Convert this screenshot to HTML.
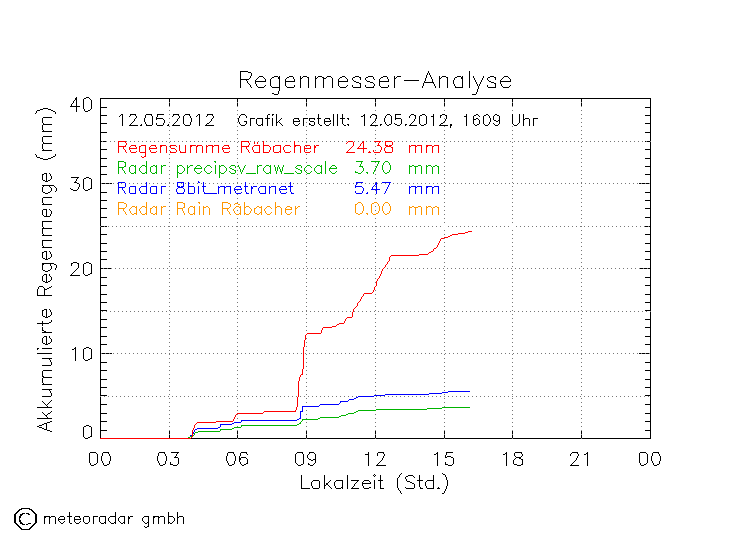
<!DOCTYPE html>
<html><head><meta charset="utf-8"><title>Regenmesser-Analyse</title><style>
html,body{margin:0;padding:0;background:#fff;overflow:hidden;}
svg{display:block;}
</style></head><body>
<svg width="749" height="539" viewBox="0 0 749 539" shape-rendering="crispEdges" role="img" aria-label="Regenmesser-Analyse">
<desc>Regenmesser-Analyse. 12.05.2012 - Grafik erstellt: 12.05.2012, 1609 Uhr. Regensumme Räbacher 24.38 mm; Radar precipsv_raw_scale 3.70 mm; Radar 8bit_metranet 5.47 mm; Radar Rain Râbacher 0.00 mm. Y-Achse: Akkumulierte Regenmenge (mm), 0-40. X-Achse: Lokalzeit (Std.), 00-24. © meteoradar gmbh</desc>
<rect width="749" height="539" fill="#fff"/>
<path fill="#000000" d="M240 71h8v1h-8zM428 71h1v1h-1zM469 71h1v1h-1zM240 72h1v1h-1zM248 72h3v1h-3zM428 72h1v1h-1zM469 72h1v1h-1zM240 73h1v1h-1zM251 73h1v1h-1zM427 73h1v1h-1zM429 73h1v1h-1zM469 73h1v1h-1zM240 74h1v1h-1zM251 74h1v1h-1zM427 74h1v1h-1zM429 74h1v1h-1zM469 74h1v1h-1zM240 75h1v1h-1zM251 75h1v1h-1zM426 75h1v1h-1zM430 75h1v1h-1zM469 75h1v1h-1zM240 76h1v1h-1zM250 76h1v1h-1zM259 76h4v1h-4zM274 76h4v1h-4zM279 76h1v1h-1zM289 76h4v1h-4zM300 76h1v1h-1zM303 76h4v1h-4zM315 76h1v1h-1zM318 76h4v1h-4zM327 76h4v1h-4zM342 76h3v1h-3zM355 76h4v1h-4zM368 76h5v1h-5zM383 76h4v1h-4zM394 76h1v1h-1zM397 76h4v1h-4zM426 76h1v1h-1zM430 76h1v1h-1zM439 76h1v1h-1zM442 76h4v1h-4zM457 76h4v1h-4zM462 76h1v1h-1zM469 76h1v1h-1zM473 76h1v1h-1zM483 76h1v1h-1zM490 76h4v1h-4zM504 76h4v1h-4zM240 77h1v1h-1zM250 77h1v1h-1zM258 77h1v1h-1zM263 77h1v1h-1zM272 77h2v1h-2zM278 77h2v1h-2zM287 77h2v1h-2zM293 77h1v1h-1zM300 77h1v1h-1zM302 77h1v1h-1zM307 77h2v1h-2zM315 77h1v1h-1zM317 77h1v1h-1zM322 77h2v1h-2zM326 77h1v1h-1zM331 77h1v1h-1zM340 77h2v1h-2zM345 77h1v1h-1zM353 77h2v1h-2zM359 77h2v1h-2zM366 77h2v1h-2zM373 77h1v1h-1zM381 77h2v1h-2zM387 77h1v1h-1zM394 77h1v1h-1zM396 77h1v1h-1zM426 77h1v1h-1zM431 77h1v1h-1zM439 77h1v1h-1zM441 77h1v1h-1zM446 77h2v1h-2zM455 77h2v1h-2zM461 77h2v1h-2zM469 77h1v1h-1zM473 77h1v1h-1zM483 77h1v1h-1zM488 77h2v1h-2zM494 77h2v1h-2zM503 77h1v1h-1zM508 77h1v1h-1zM240 78h1v1h-1zM249 78h1v1h-1zM257 78h1v1h-1zM264 78h1v1h-1zM271 78h1v1h-1zM278 78h2v1h-2zM286 78h1v1h-1zM293 78h1v1h-1zM300 78h2v1h-2zM308 78h1v1h-1zM315 78h2v1h-2zM323 78h3v1h-3zM332 78h1v1h-1zM339 78h1v1h-1zM346 78h1v1h-1zM352 78h1v1h-1zM360 78h1v1h-1zM365 78h1v1h-1zM373 78h1v1h-1zM380 78h1v1h-1zM387 78h1v1h-1zM394 78h2v1h-2zM425 78h1v1h-1zM431 78h1v1h-1zM439 78h2v1h-2zM447 78h1v1h-1zM454 78h1v1h-1zM461 78h2v1h-2zM469 78h1v1h-1zM474 78h1v1h-1zM482 78h1v1h-1zM487 78h1v1h-1zM495 78h1v1h-1zM502 78h1v1h-1zM509 78h1v1h-1zM240 79h9v1h-9zM256 79h1v1h-1zM265 79h1v1h-1zM270 79h1v1h-1zM279 79h1v1h-1zM285 79h1v1h-1zM294 79h1v1h-1zM300 79h1v1h-1zM308 79h1v1h-1zM315 79h1v1h-1zM323 79h1v1h-1zM332 79h1v1h-1zM338 79h1v1h-1zM347 79h1v1h-1zM352 79h1v1h-1zM360 79h1v1h-1zM365 79h1v1h-1zM374 79h1v1h-1zM379 79h1v1h-1zM388 79h1v1h-1zM394 79h1v1h-1zM425 79h1v1h-1zM432 79h1v1h-1zM439 79h1v1h-1zM447 79h1v1h-1zM454 79h1v1h-1zM462 79h1v1h-1zM469 79h1v1h-1zM474 79h1v1h-1zM482 79h1v1h-1zM487 79h1v1h-1zM495 79h1v1h-1zM501 79h1v1h-1zM510 79h1v1h-1zM240 80h1v1h-1zM246 80h1v1h-1zM255 80h1v1h-1zM265 80h1v1h-1zM270 80h1v1h-1zM279 80h1v1h-1zM285 80h1v1h-1zM294 80h1v1h-1zM300 80h1v1h-1zM308 80h1v1h-1zM315 80h1v1h-1zM323 80h1v1h-1zM332 80h1v1h-1zM338 80h1v1h-1zM347 80h1v1h-1zM353 80h1v1h-1zM366 80h1v1h-1zM379 80h1v1h-1zM388 80h1v1h-1zM394 80h1v1h-1zM404 80h15v1h-15zM425 80h1v1h-1zM432 80h1v1h-1zM439 80h1v1h-1zM447 80h1v1h-1zM453 80h1v1h-1zM462 80h1v1h-1zM469 80h1v1h-1zM475 80h1v1h-1zM481 80h1v1h-1zM488 80h1v1h-1zM500 80h1v1h-1zM510 80h1v1h-1zM240 81h1v1h-1zM247 81h1v1h-1zM255 81h11v1h-11zM270 81h1v1h-1zM279 81h1v1h-1zM285 81h10v1h-10zM300 81h1v1h-1zM308 81h1v1h-1zM315 81h1v1h-1zM323 81h1v1h-1zM332 81h1v1h-1zM338 81h10v1h-10zM354 81h2v1h-2zM367 81h3v1h-3zM379 81h10v1h-10zM394 81h1v1h-1zM424 81h1v1h-1zM432 81h1v1h-1zM439 81h1v1h-1zM447 81h1v1h-1zM453 81h1v1h-1zM462 81h1v1h-1zM469 81h1v1h-1zM475 81h1v1h-1zM481 81h1v1h-1zM489 81h2v1h-2zM500 81h11v1h-11zM240 82h1v1h-1zM247 82h1v1h-1zM255 82h1v1h-1zM270 82h1v1h-1zM279 82h1v1h-1zM285 82h1v1h-1zM300 82h1v1h-1zM308 82h1v1h-1zM315 82h1v1h-1zM323 82h1v1h-1zM332 82h1v1h-1zM338 82h1v1h-1zM356 82h3v1h-3zM370 82h3v1h-3zM379 82h1v1h-1zM394 82h1v1h-1zM424 82h10v1h-10zM439 82h1v1h-1zM447 82h1v1h-1zM453 82h1v1h-1zM462 82h1v1h-1zM469 82h1v1h-1zM476 82h1v1h-1zM480 82h1v1h-1zM491 82h3v1h-3zM500 82h1v1h-1zM240 83h1v1h-1zM248 83h1v1h-1zM255 83h1v1h-1zM270 83h1v1h-1zM279 83h1v1h-1zM285 83h1v1h-1zM300 83h1v1h-1zM308 83h1v1h-1zM315 83h1v1h-1zM323 83h1v1h-1zM332 83h1v1h-1zM338 83h1v1h-1zM359 83h2v1h-2zM373 83h1v1h-1zM379 83h1v1h-1zM394 83h1v1h-1zM423 83h1v1h-1zM433 83h1v1h-1zM439 83h1v1h-1zM447 83h1v1h-1zM453 83h1v1h-1zM462 83h1v1h-1zM469 83h1v1h-1zM476 83h1v1h-1zM480 83h1v1h-1zM494 83h2v1h-2zM500 83h1v1h-1zM240 84h1v1h-1zM249 84h1v1h-1zM256 84h1v1h-1zM270 84h1v1h-1zM279 84h1v1h-1zM285 84h1v1h-1zM300 84h1v1h-1zM308 84h1v1h-1zM315 84h1v1h-1zM323 84h1v1h-1zM332 84h1v1h-1zM338 84h1v1h-1zM360 84h1v1h-1zM374 84h1v1h-1zM379 84h1v1h-1zM394 84h1v1h-1zM423 84h1v1h-1zM434 84h1v1h-1zM439 84h1v1h-1zM447 84h1v1h-1zM454 84h1v1h-1zM462 84h1v1h-1zM469 84h1v1h-1zM477 84h1v1h-1zM479 84h1v1h-1zM495 84h1v1h-1zM501 84h1v1h-1zM240 85h1v1h-1zM250 85h1v1h-1zM256 85h1v1h-1zM265 85h1v1h-1zM270 85h1v1h-1zM279 85h1v1h-1zM285 85h1v1h-1zM294 85h1v1h-1zM300 85h1v1h-1zM308 85h1v1h-1zM315 85h1v1h-1zM323 85h1v1h-1zM332 85h1v1h-1zM338 85h1v1h-1zM347 85h1v1h-1zM352 85h1v1h-1zM360 85h1v1h-1zM365 85h1v1h-1zM374 85h1v1h-1zM379 85h1v1h-1zM388 85h1v1h-1zM394 85h1v1h-1zM423 85h1v1h-1zM434 85h1v1h-1zM439 85h1v1h-1zM447 85h1v1h-1zM454 85h1v1h-1zM462 85h1v1h-1zM469 85h1v1h-1zM477 85h1v1h-1zM479 85h1v1h-1zM487 85h1v1h-1zM495 85h1v1h-1zM501 85h1v1h-1zM510 85h1v1h-1zM240 86h1v1h-1zM250 86h1v1h-1zM257 86h1v1h-1zM264 86h1v1h-1zM271 86h1v1h-1zM279 86h1v1h-1zM286 86h1v1h-1zM294 86h1v1h-1zM300 86h1v1h-1zM308 86h1v1h-1zM315 86h1v1h-1zM323 86h1v1h-1zM332 86h1v1h-1zM339 86h1v1h-1zM346 86h1v1h-1zM352 86h1v1h-1zM360 86h1v1h-1zM365 86h1v1h-1zM373 86h1v1h-1zM380 86h1v1h-1zM388 86h1v1h-1zM394 86h1v1h-1zM422 86h1v1h-1zM435 86h1v1h-1zM439 86h1v1h-1zM447 86h1v1h-1zM455 86h1v1h-1zM462 86h1v1h-1zM469 86h1v1h-1zM478 86h1v1h-1zM487 86h1v1h-1zM495 86h1v1h-1zM502 86h1v1h-1zM509 86h1v1h-1zM240 87h1v1h-1zM251 87h1v1h-1zM258 87h6v1h-6zM272 87h8v1h-8zM287 87h7v1h-7zM300 87h1v1h-1zM308 87h1v1h-1zM315 87h1v1h-1zM323 87h1v1h-1zM332 87h1v1h-1zM340 87h6v1h-6zM353 87h8v1h-8zM366 87h8v1h-8zM381 87h7v1h-7zM394 87h1v1h-1zM422 87h1v1h-1zM435 87h1v1h-1zM439 87h1v1h-1zM447 87h1v1h-1zM455 87h8v1h-8zM469 87h1v1h-1zM478 87h1v1h-1zM488 87h8v1h-8zM503 87h6v1h-6zM279 88h1v1h-1zM478 88h1v1h-1zM279 89h1v1h-1zM477 89h1v1h-1zM279 90h1v1h-1zM477 90h1v1h-1zM278 91h1v1h-1zM477 91h1v1h-1zM278 92h1v1h-1zM476 92h1v1h-1zM272 93h2v1h-2zM278 93h1v1h-1zM476 93h1v1h-1zM274 94h4v1h-4zM472 94h4v1h-4zM76 97h1v1h-1zM86 97h3v1h-3zM75 98h2v1h-2zM84 98h2v1h-2zM89 98h1v1h-1zM100 98h551v1h-551zM75 99h2v1h-2zM83 99h1v1h-1zM90 99h1v1h-1zM100 99h1v1h-1zM169 99h1v1h-1zM237 99h1v1h-1zM306 99h1v1h-1zM375 99h1v1h-1zM444 99h1v1h-1zM512 99h1v1h-1zM581 99h1v1h-1zM650 99h1v1h-1zM74 100h1v1h-1zM76 100h1v1h-1zM83 100h1v1h-1zM91 100h1v1h-1zM100 100h1v1h-1zM169 100h1v1h-1zM237 100h1v1h-1zM306 100h1v1h-1zM375 100h1v1h-1zM444 100h1v1h-1zM512 100h1v1h-1zM581 100h1v1h-1zM650 100h1v1h-1zM73 101h1v1h-1zM76 101h1v1h-1zM83 101h1v1h-1zM91 101h1v1h-1zM100 101h1v1h-1zM169 101h1v1h-1zM237 101h1v1h-1zM306 101h1v1h-1zM375 101h1v1h-1zM444 101h1v1h-1zM512 101h1v1h-1zM581 101h1v1h-1zM650 101h1v1h-1zM73 102h1v1h-1zM76 102h1v1h-1zM83 102h1v1h-1zM91 102h1v1h-1zM100 102h1v1h-1zM650 102h1v1h-1zM72 103h1v1h-1zM76 103h1v1h-1zM83 103h1v1h-1zM91 103h1v1h-1zM100 103h1v1h-1zM169 103h1v1h-1zM237 103h1v1h-1zM306 103h1v1h-1zM375 103h1v1h-1zM444 103h1v1h-1zM512 103h1v1h-1zM581 103h1v1h-1zM650 103h1v1h-1zM71 104h1v1h-1zM76 104h1v1h-1zM83 104h1v1h-1zM91 104h1v1h-1zM100 104h1v1h-1zM169 104h1v1h-1zM237 104h1v1h-1zM306 104h1v1h-1zM375 104h1v1h-1zM444 104h1v1h-1zM512 104h1v1h-1zM581 104h1v1h-1zM650 104h1v1h-1zM71 105h1v1h-1zM76 105h1v1h-1zM83 105h1v1h-1zM91 105h1v1h-1zM100 105h1v1h-1zM169 105h1v1h-1zM237 105h1v1h-1zM306 105h1v1h-1zM375 105h1v1h-1zM444 105h1v1h-1zM512 105h1v1h-1zM581 105h1v1h-1zM650 105h1v1h-1zM70 106h10v1h-10zM83 106h1v1h-1zM91 106h1v1h-1zM100 106h1v1h-1zM650 106h1v1h-1zM76 107h1v1h-1zM83 107h1v1h-1zM91 107h1v1h-1zM100 107h7v1h-7zM645 107h6v1h-6zM43 108h5v1h-5zM76 108h1v1h-1zM83 108h1v1h-1zM91 108h1v1h-1zM100 108h1v1h-1zM650 108h1v1h-1zM40 109h3v1h-3zM48 109h3v1h-3zM76 109h1v1h-1zM84 109h1v1h-1zM90 109h1v1h-1zM100 109h1v1h-1zM650 109h1v1h-1zM37 110h3v1h-3zM51 110h2v1h-2zM76 110h1v1h-1zM84 110h1v1h-1zM88 110h2v1h-2zM100 110h1v1h-1zM650 110h1v1h-1zM36 111h1v1h-1zM53 111h2v1h-2zM76 111h1v1h-1zM85 111h3v1h-3zM100 111h1v1h-1zM650 111h1v1h-1zM36 112h1v1h-1zM55 112h1v1h-1zM100 112h1v1h-1zM650 112h1v1h-1zM35 113h1v1h-1zM55 113h1v1h-1zM100 113h1v1h-1zM650 113h1v1h-1zM100 114h1v1h-1zM121 114h2v1h-2zM130 114h6v1h-6zM146 114h6v1h-6zM157 114h7v1h-7zM173 114h6v1h-6zM185 114h5v1h-5zM198 114h2v1h-2zM207 114h6v1h-6zM241 114h4v1h-4zM268 114h2v1h-2zM272 114h2v1h-2zM276 114h1v1h-1zM318 114h1v1h-1zM333 114h1v1h-1zM337 114h1v1h-1zM342 114h1v1h-1zM364 114h1v1h-1zM372 114h3v1h-3zM387 114h3v1h-3zM395 114h6v1h-6zM411 114h3v1h-3zM422 114h3v1h-3zM433 114h1v1h-1zM442 114h3v1h-3zM466 114h1v1h-1zM476 114h2v1h-2zM486 114h2v1h-2zM495 114h2v1h-2zM512 114h1v1h-1zM519 114h1v1h-1zM523 114h1v1h-1zM650 114h1v1h-1zM100 115h7v1h-7zM120 115h1v1h-1zM122 115h1v1h-1zM130 115h1v1h-1zM135 115h1v1h-1zM145 115h1v1h-1zM151 115h1v1h-1zM157 115h1v1h-1zM173 115h1v1h-1zM178 115h1v1h-1zM184 115h1v1h-1zM189 115h1v1h-1zM197 115h1v1h-1zM199 115h1v1h-1zM207 115h1v1h-1zM212 115h1v1h-1zM240 115h1v1h-1zM245 115h1v1h-1zM267 115h1v1h-1zM272 115h1v1h-1zM276 115h1v1h-1zM318 115h1v1h-1zM333 115h1v1h-1zM337 115h1v1h-1zM342 115h1v1h-1zM363 115h2v1h-2zM371 115h1v1h-1zM375 115h2v1h-2zM386 115h1v1h-1zM390 115h1v1h-1zM395 115h1v1h-1zM410 115h1v1h-1zM414 115h2v1h-2zM420 115h2v1h-2zM425 115h1v1h-1zM433 115h1v1h-1zM440 115h2v1h-2zM445 115h2v1h-2zM466 115h1v1h-1zM474 115h2v1h-2zM478 115h1v1h-1zM484 115h2v1h-2zM488 115h1v1h-1zM494 115h1v1h-1zM497 115h2v1h-2zM512 115h1v1h-1zM519 115h1v1h-1zM523 115h1v1h-1zM645 115h6v1h-6zM100 116h1v1h-1zM119 116h1v1h-1zM122 116h1v1h-1zM129 116h1v1h-1zM136 116h1v1h-1zM145 116h1v1h-1zM152 116h1v1h-1zM157 116h1v1h-1zM172 116h1v1h-1zM179 116h1v1h-1zM183 116h1v1h-1zM190 116h1v1h-1zM196 116h1v1h-1zM199 116h1v1h-1zM206 116h1v1h-1zM213 116h1v1h-1zM239 116h1v1h-1zM246 116h1v1h-1zM267 116h1v1h-1zM276 116h1v1h-1zM318 116h1v1h-1zM333 116h1v1h-1zM337 116h1v1h-1zM342 116h1v1h-1zM361 116h2v1h-2zM364 116h1v1h-1zM370 116h1v1h-1zM376 116h1v1h-1zM385 116h1v1h-1zM391 116h1v1h-1zM395 116h1v1h-1zM409 116h1v1h-1zM415 116h1v1h-1zM419 116h1v1h-1zM426 116h1v1h-1zM431 116h3v1h-3zM440 116h1v1h-1zM446 116h1v1h-1zM464 116h3v1h-3zM473 116h1v1h-1zM479 116h1v1h-1zM483 116h1v1h-1zM489 116h1v1h-1zM493 116h1v1h-1zM499 116h1v1h-1zM512 116h1v1h-1zM519 116h1v1h-1zM523 116h1v1h-1zM650 116h1v1h-1zM43 117h9v1h-9zM100 117h1v1h-1zM122 117h1v1h-1zM136 117h1v1h-1zM145 117h1v1h-1zM152 117h1v1h-1zM156 117h1v1h-1zM179 117h1v1h-1zM183 117h1v1h-1zM190 117h1v1h-1zM199 117h1v1h-1zM213 117h1v1h-1zM239 117h1v1h-1zM246 117h1v1h-1zM267 117h1v1h-1zM276 117h1v1h-1zM318 117h1v1h-1zM333 117h1v1h-1zM337 117h1v1h-1zM342 117h1v1h-1zM364 117h1v1h-1zM370 117h1v1h-1zM376 117h1v1h-1zM385 117h1v1h-1zM391 117h1v1h-1zM395 117h1v1h-1zM409 117h1v1h-1zM415 117h1v1h-1zM419 117h1v1h-1zM426 117h1v1h-1zM433 117h1v1h-1zM440 117h1v1h-1zM446 117h1v1h-1zM466 117h1v1h-1zM473 117h1v1h-1zM483 117h1v1h-1zM489 117h1v1h-1zM493 117h1v1h-1zM499 117h1v1h-1zM512 117h1v1h-1zM519 117h1v1h-1zM523 117h1v1h-1zM650 117h1v1h-1zM42 118h1v1h-1zM100 118h1v1h-1zM122 118h1v1h-1zM135 118h1v1h-1zM144 118h1v1h-1zM152 118h1v1h-1zM156 118h7v1h-7zM178 118h1v1h-1zM183 118h1v1h-1zM191 118h1v1h-1zM199 118h1v1h-1zM212 118h1v1h-1zM238 118h1v1h-1zM250 118h5v1h-5zM257 118h6v1h-6zM265 118h5v1h-5zM272 118h1v1h-1zM276 118h1v1h-1zM281 118h1v1h-1zM294 118h5v1h-5zM303 118h5v1h-5zM309 118h6v1h-6zM317 118h4v1h-4zM325 118h5v1h-5zM333 118h1v1h-1zM337 118h1v1h-1zM340 118h5v1h-5zM347 118h2v1h-2zM364 118h1v1h-1zM376 118h1v1h-1zM384 118h1v1h-1zM391 118h1v1h-1zM395 118h6v1h-6zM415 118h1v1h-1zM419 118h1v1h-1zM426 118h1v1h-1zM433 118h1v1h-1zM446 118h1v1h-1zM466 118h1v1h-1zM473 118h1v1h-1zM476 118h2v1h-2zM483 118h1v1h-1zM490 118h1v1h-1zM493 118h1v1h-1zM499 118h1v1h-1zM512 118h1v1h-1zM519 118h1v1h-1zM523 118h1v1h-1zM525 118h4v1h-4zM533 118h5v1h-5zM650 118h1v1h-1zM42 119h1v1h-1zM100 119h1v1h-1zM122 119h1v1h-1zM134 119h1v1h-1zM144 119h1v1h-1zM152 119h1v1h-1zM156 119h1v1h-1zM163 119h1v1h-1zM177 119h1v1h-1zM183 119h1v1h-1zM191 119h1v1h-1zM199 119h1v1h-1zM211 119h1v1h-1zM238 119h1v1h-1zM250 119h1v1h-1zM256 119h1v1h-1zM262 119h1v1h-1zM267 119h1v1h-1zM272 119h1v1h-1zM276 119h1v1h-1zM280 119h1v1h-1zM293 119h1v1h-1zM298 119h1v1h-1zM303 119h1v1h-1zM309 119h1v1h-1zM314 119h1v1h-1zM318 119h1v1h-1zM324 119h1v1h-1zM329 119h1v1h-1zM333 119h1v1h-1zM337 119h1v1h-1zM342 119h1v1h-1zM348 119h1v1h-1zM364 119h1v1h-1zM375 119h1v1h-1zM384 119h1v1h-1zM391 119h1v1h-1zM395 119h1v1h-1zM401 119h1v1h-1zM414 119h1v1h-1zM419 119h1v1h-1zM426 119h1v1h-1zM433 119h1v1h-1zM445 119h1v1h-1zM466 119h1v1h-1zM473 119h3v1h-3zM478 119h1v1h-1zM483 119h1v1h-1zM490 119h1v1h-1zM493 119h1v1h-1zM499 119h1v1h-1zM512 119h1v1h-1zM519 119h1v1h-1zM523 119h2v1h-2zM529 119h1v1h-1zM533 119h1v1h-1zM650 119h1v1h-1zM42 120h1v1h-1zM100 120h1v1h-1zM122 120h1v1h-1zM134 120h1v1h-1zM144 120h1v1h-1zM152 120h1v1h-1zM164 120h1v1h-1zM177 120h1v1h-1zM183 120h1v1h-1zM191 120h1v1h-1zM199 120h1v1h-1zM211 120h1v1h-1zM238 120h1v1h-1zM250 120h1v1h-1zM256 120h1v1h-1zM262 120h1v1h-1zM267 120h1v1h-1zM272 120h1v1h-1zM276 120h1v1h-1zM279 120h1v1h-1zM293 120h1v1h-1zM299 120h1v1h-1zM303 120h1v1h-1zM309 120h1v1h-1zM318 120h1v1h-1zM324 120h1v1h-1zM330 120h1v1h-1zM333 120h1v1h-1zM337 120h1v1h-1zM342 120h1v1h-1zM364 120h1v1h-1zM375 120h1v1h-1zM384 120h1v1h-1zM391 120h1v1h-1zM401 120h1v1h-1zM414 120h1v1h-1zM419 120h1v1h-1zM426 120h1v1h-1zM433 120h1v1h-1zM445 120h1v1h-1zM466 120h1v1h-1zM473 120h1v1h-1zM479 120h1v1h-1zM483 120h1v1h-1zM490 120h1v1h-1zM494 120h2v1h-2zM498 120h2v1h-2zM512 120h1v1h-1zM519 120h1v1h-1zM523 120h1v1h-1zM529 120h1v1h-1zM533 120h1v1h-1zM650 120h1v1h-1zM42 121h1v1h-1zM100 121h1v1h-1zM122 121h1v1h-1zM133 121h1v1h-1zM144 121h1v1h-1zM152 121h1v1h-1zM164 121h1v1h-1zM176 121h1v1h-1zM183 121h1v1h-1zM191 121h1v1h-1zM199 121h1v1h-1zM210 121h1v1h-1zM238 121h1v1h-1zM244 121h3v1h-3zM250 121h1v1h-1zM256 121h1v1h-1zM262 121h1v1h-1zM267 121h1v1h-1zM272 121h1v1h-1zM276 121h1v1h-1zM278 121h1v1h-1zM293 121h7v1h-7zM303 121h1v1h-1zM310 121h4v1h-4zM318 121h1v1h-1zM324 121h7v1h-7zM333 121h1v1h-1zM337 121h1v1h-1zM342 121h1v1h-1zM364 121h1v1h-1zM374 121h1v1h-1zM384 121h1v1h-1zM391 121h1v1h-1zM401 121h1v1h-1zM413 121h1v1h-1zM419 121h1v1h-1zM426 121h1v1h-1zM433 121h1v1h-1zM444 121h1v1h-1zM466 121h1v1h-1zM473 121h1v1h-1zM479 121h1v1h-1zM483 121h1v1h-1zM490 121h1v1h-1zM496 121h2v1h-2zM499 121h1v1h-1zM512 121h1v1h-1zM519 121h1v1h-1zM523 121h1v1h-1zM529 121h1v1h-1zM533 121h1v1h-1zM650 121h1v1h-1zM42 122h1v1h-1zM100 122h1v1h-1zM122 122h1v1h-1zM132 122h1v1h-1zM145 122h1v1h-1zM152 122h1v1h-1zM164 122h1v1h-1zM175 122h1v1h-1zM183 122h1v1h-1zM190 122h1v1h-1zM199 122h1v1h-1zM209 122h1v1h-1zM239 122h1v1h-1zM246 122h1v1h-1zM250 122h1v1h-1zM256 122h1v1h-1zM262 122h1v1h-1zM267 122h1v1h-1zM272 122h1v1h-1zM276 122h2v1h-2zM279 122h1v1h-1zM293 122h1v1h-1zM303 122h1v1h-1zM314 122h1v1h-1zM318 122h1v1h-1zM324 122h1v1h-1zM333 122h1v1h-1zM337 122h1v1h-1zM342 122h1v1h-1zM364 122h1v1h-1zM373 122h1v1h-1zM385 122h1v1h-1zM391 122h1v1h-1zM401 122h1v1h-1zM412 122h1v1h-1zM419 122h1v1h-1zM426 122h1v1h-1zM433 122h1v1h-1zM443 122h1v1h-1zM466 122h1v1h-1zM473 122h1v1h-1zM479 122h1v1h-1zM483 122h1v1h-1zM489 122h1v1h-1zM499 122h1v1h-1zM512 122h1v1h-1zM519 122h1v1h-1zM523 122h1v1h-1zM529 122h1v1h-1zM533 122h1v1h-1zM650 122h1v1h-1zM43 123h1v1h-1zM100 123h7v1h-7zM122 123h1v1h-1zM131 123h1v1h-1zM145 123h1v1h-1zM152 123h1v1h-1zM156 123h1v1h-1zM163 123h1v1h-1zM174 123h1v1h-1zM183 123h1v1h-1zM190 123h1v1h-1zM199 123h1v1h-1zM207 123h2v1h-2zM239 123h1v1h-1zM246 123h1v1h-1zM250 123h1v1h-1zM256 123h1v1h-1zM262 123h1v1h-1zM267 123h1v1h-1zM272 123h1v1h-1zM276 123h1v1h-1zM280 123h1v1h-1zM293 123h1v1h-1zM299 123h1v1h-1zM303 123h1v1h-1zM309 123h1v1h-1zM314 123h1v1h-1zM318 123h1v1h-1zM324 123h1v1h-1zM330 123h1v1h-1zM333 123h1v1h-1zM337 123h1v1h-1zM342 123h1v1h-1zM364 123h1v1h-1zM372 123h1v1h-1zM385 123h1v1h-1zM391 123h1v1h-1zM394 123h1v1h-1zM401 123h1v1h-1zM411 123h1v1h-1zM419 123h1v1h-1zM426 123h1v1h-1zM433 123h1v1h-1zM441 123h2v1h-2zM466 123h1v1h-1zM473 123h1v1h-1zM479 123h1v1h-1zM483 123h1v1h-1zM489 123h1v1h-1zM493 123h1v1h-1zM499 123h1v1h-1zM512 123h1v1h-1zM518 123h1v1h-1zM523 123h1v1h-1zM529 123h1v1h-1zM533 123h1v1h-1zM645 123h6v1h-6zM43 124h9v1h-9zM100 124h1v1h-1zM122 124h1v1h-1zM130 124h1v1h-1zM141 124h1v1h-1zM146 124h1v1h-1zM152 124h1v1h-1zM156 124h1v1h-1zM163 124h1v1h-1zM168 124h1v1h-1zM173 124h1v1h-1zM184 124h1v1h-1zM190 124h1v1h-1zM199 124h1v1h-1zM206 124h1v1h-1zM240 124h1v1h-1zM245 124h1v1h-1zM250 124h1v1h-1zM257 124h1v1h-1zM261 124h2v1h-2zM267 124h1v1h-1zM272 124h1v1h-1zM276 124h1v1h-1zM281 124h1v1h-1zM294 124h1v1h-1zM298 124h1v1h-1zM303 124h1v1h-1zM309 124h2v1h-2zM314 124h1v1h-1zM319 124h1v1h-1zM325 124h1v1h-1zM329 124h1v1h-1zM333 124h1v1h-1zM337 124h1v1h-1zM343 124h1v1h-1zM347 124h2v1h-2zM364 124h1v1h-1zM371 124h1v1h-1zM380 124h2v1h-2zM386 124h1v1h-1zM389 124h2v1h-2zM395 124h2v1h-2zM400 124h1v1h-1zM405 124h2v1h-2zM410 124h1v1h-1zM420 124h1v1h-1zM424 124h2v1h-2zM433 124h1v1h-1zM440 124h1v1h-1zM450 124h2v1h-2zM466 124h1v1h-1zM474 124h1v1h-1zM477 124h2v1h-2zM484 124h1v1h-1zM488 124h1v1h-1zM494 124h1v1h-1zM498 124h1v1h-1zM513 124h1v1h-1zM517 124h1v1h-1zM523 124h1v1h-1zM529 124h1v1h-1zM533 124h1v1h-1zM650 124h1v1h-1zM42 125h1v1h-1zM100 125h1v1h-1zM122 125h1v1h-1zM129 125h9v1h-9zM140 125h2v1h-2zM146 125h6v1h-6zM157 125h6v1h-6zM167 125h2v1h-2zM172 125h8v1h-8zM185 125h5v1h-5zM199 125h1v1h-1zM205 125h9v1h-9zM241 125h4v1h-4zM250 125h1v1h-1zM258 125h3v1h-3zM262 125h1v1h-1zM267 125h1v1h-1zM272 125h1v1h-1zM276 125h1v1h-1zM282 125h1v1h-1zM295 125h3v1h-3zM303 125h1v1h-1zM311 125h3v1h-3zM320 125h2v1h-2zM326 125h3v1h-3zM333 125h1v1h-1zM337 125h1v1h-1zM344 125h2v1h-2zM348 125h1v1h-1zM364 125h1v1h-1zM370 125h8v1h-8zM380 125h1v1h-1zM387 125h2v1h-2zM397 125h3v1h-3zM405 125h1v1h-1zM409 125h8v1h-8zM421 125h3v1h-3zM433 125h1v1h-1zM439 125h9v1h-9zM450 125h2v1h-2zM466 125h1v1h-1zM475 125h2v1h-2zM485 125h3v1h-3zM495 125h3v1h-3zM514 125h3v1h-3zM523 125h1v1h-1zM529 125h1v1h-1zM533 125h1v1h-1zM650 125h1v1h-1zM42 126h1v1h-1zM100 126h1v1h-1zM450 126h1v1h-1zM650 126h1v1h-1zM42 127h1v1h-1zM100 127h1v1h-1zM450 127h1v1h-1zM650 127h1v1h-1zM42 128h1v1h-1zM100 128h1v1h-1zM650 128h1v1h-1zM42 129h1v1h-1zM100 129h1v1h-1zM650 129h1v1h-1zM43 130h1v1h-1zM100 130h1v1h-1zM650 130h1v1h-1zM42 131h10v1h-10zM100 131h1v1h-1zM650 131h1v1h-1zM100 132h7v1h-7zM645 132h6v1h-6zM100 133h1v1h-1zM650 133h1v1h-1zM100 134h1v1h-1zM650 134h1v1h-1zM100 135h1v1h-1zM650 135h1v1h-1zM43 136h9v1h-9zM100 136h1v1h-1zM650 136h1v1h-1zM42 137h1v1h-1zM100 137h1v1h-1zM650 137h1v1h-1zM42 138h1v1h-1zM100 138h1v1h-1zM650 138h1v1h-1zM42 139h1v1h-1zM100 139h1v1h-1zM650 139h1v1h-1zM42 140h1v1h-1zM100 140h1v1h-1zM650 140h1v1h-1zM42 141h1v1h-1zM100 141h2v1h-2zM103 141h3v1h-3zM645 141h1v1h-1zM647 141h3v1h-3zM43 142h1v1h-1zM100 142h1v1h-1zM650 142h1v1h-1zM43 143h9v1h-9zM100 143h1v1h-1zM650 143h1v1h-1zM42 144h1v1h-1zM100 144h1v1h-1zM650 144h1v1h-1zM42 145h1v1h-1zM100 145h1v1h-1zM650 145h1v1h-1zM42 146h1v1h-1zM100 146h1v1h-1zM650 146h1v1h-1zM42 147h1v1h-1zM100 147h1v1h-1zM650 147h1v1h-1zM42 148h1v1h-1zM100 148h1v1h-1zM650 148h1v1h-1zM43 149h1v1h-1zM100 149h7v1h-7zM645 149h6v1h-6zM42 150h10v1h-10zM100 150h1v1h-1zM650 150h1v1h-1zM100 151h1v1h-1zM650 151h1v1h-1zM100 152h1v1h-1zM650 152h1v1h-1zM100 153h1v1h-1zM650 153h1v1h-1zM35 154h1v1h-1zM55 154h1v1h-1zM100 154h1v1h-1zM650 154h1v1h-1zM36 155h1v1h-1zM55 155h1v1h-1zM100 155h1v1h-1zM650 155h1v1h-1zM36 156h1v1h-1zM53 156h2v1h-2zM100 156h1v1h-1zM650 156h1v1h-1zM37 157h3v1h-3zM51 157h2v1h-2zM100 157h1v1h-1zM650 157h1v1h-1zM40 158h3v1h-3zM48 158h3v1h-3zM100 158h7v1h-7zM645 158h6v1h-6zM43 159h5v1h-5zM100 159h1v1h-1zM650 159h1v1h-1zM100 160h1v1h-1zM650 160h1v1h-1zM100 161h1v1h-1zM650 161h1v1h-1zM100 162h1v1h-1zM650 162h1v1h-1zM100 163h1v1h-1zM650 163h1v1h-1zM100 164h1v1h-1zM650 164h1v1h-1zM100 165h1v1h-1zM650 165h1v1h-1zM100 166h7v1h-7zM645 166h6v1h-6zM100 167h1v1h-1zM650 167h1v1h-1zM100 168h1v1h-1zM650 168h1v1h-1zM100 169h1v1h-1zM650 169h1v1h-1zM100 170h1v1h-1zM650 170h1v1h-1zM100 171h1v1h-1zM650 171h1v1h-1zM100 172h1v1h-1zM650 172h1v1h-1zM44 173h3v1h-3zM49 173h1v1h-1zM100 173h1v1h-1zM650 173h1v1h-1zM42 174h2v1h-2zM46 174h1v1h-1zM50 174h1v1h-1zM100 174h7v1h-7zM645 174h6v1h-6zM42 175h1v1h-1zM46 175h1v1h-1zM50 175h1v1h-1zM100 175h1v1h-1zM650 175h1v1h-1zM42 176h1v1h-1zM46 176h1v1h-1zM51 176h1v1h-1zM100 176h1v1h-1zM650 176h1v1h-1zM42 177h1v1h-1zM46 177h1v1h-1zM51 177h1v1h-1zM71 177h8v1h-8zM86 177h3v1h-3zM100 177h1v1h-1zM650 177h1v1h-1zM42 178h1v1h-1zM46 178h1v1h-1zM51 178h1v1h-1zM77 178h1v1h-1zM84 178h2v1h-2zM89 178h2v1h-2zM100 178h1v1h-1zM650 178h1v1h-1zM42 179h1v1h-1zM46 179h1v1h-1zM50 179h1v1h-1zM76 179h1v1h-1zM83 179h1v1h-1zM91 179h1v1h-1zM100 179h1v1h-1zM650 179h1v1h-1zM43 180h2v1h-2zM46 180h1v1h-1zM48 180h2v1h-2zM76 180h1v1h-1zM83 180h1v1h-1zM91 180h1v1h-1zM100 180h1v1h-1zM650 180h1v1h-1zM45 181h3v1h-3zM75 181h1v1h-1zM83 181h1v1h-1zM91 181h1v1h-1zM100 181h1v1h-1zM650 181h1v1h-1zM74 182h3v1h-3zM83 182h1v1h-1zM91 182h1v1h-1zM100 182h1v1h-1zM650 182h1v1h-1zM77 183h2v1h-2zM83 183h1v1h-1zM91 183h1v1h-1zM100 183h1v1h-1zM102 183h3v1h-3zM106 183h3v1h-3zM110 183h2v1h-2zM639 183h2v1h-2zM642 183h3v1h-3zM646 183h3v1h-3zM650 183h1v1h-1zM79 184h1v1h-1zM83 184h1v1h-1zM91 184h1v1h-1zM100 184h1v1h-1zM650 184h1v1h-1zM42 185h12v1h-12zM79 185h1v1h-1zM83 185h1v1h-1zM91 185h1v1h-1zM100 185h1v1h-1zM650 185h1v1h-1zM43 186h1v1h-1zM49 186h1v1h-1zM54 186h1v1h-1zM79 186h1v1h-1zM83 186h1v1h-1zM91 186h1v1h-1zM100 186h1v1h-1zM650 186h1v1h-1zM42 187h1v1h-1zM50 187h1v1h-1zM55 187h1v1h-1zM78 187h1v1h-1zM83 187h1v1h-1zM91 187h1v1h-1zM100 187h1v1h-1zM650 187h1v1h-1zM42 188h1v1h-1zM51 188h1v1h-1zM56 188h1v1h-1zM70 188h1v1h-1zM78 188h1v1h-1zM83 188h1v1h-1zM90 188h2v1h-2zM100 188h1v1h-1zM650 188h1v1h-1zM42 189h1v1h-1zM51 189h1v1h-1zM56 189h1v1h-1zM71 189h2v1h-2zM77 189h1v1h-1zM84 189h1v1h-1zM88 189h2v1h-2zM100 189h1v1h-1zM650 189h1v1h-1zM42 190h1v1h-1zM51 190h1v1h-1zM56 190h1v1h-1zM73 190h4v1h-4zM85 190h3v1h-3zM100 190h1v1h-1zM650 190h1v1h-1zM42 191h1v1h-1zM50 191h1v1h-1zM55 191h1v1h-1zM100 191h1v1h-1zM650 191h1v1h-1zM43 192h2v1h-2zM48 192h2v1h-2zM100 192h7v1h-7zM645 192h6v1h-6zM45 193h3v1h-3zM100 193h1v1h-1zM650 193h1v1h-1zM100 194h1v1h-1zM650 194h1v1h-1zM100 195h1v1h-1zM650 195h1v1h-1zM100 196h1v1h-1zM650 196h1v1h-1zM43 197h9v1h-9zM100 197h1v1h-1zM650 197h1v1h-1zM42 198h1v1h-1zM100 198h1v1h-1zM650 198h1v1h-1zM42 199h1v1h-1zM100 199h1v1h-1zM650 199h1v1h-1zM42 200h1v1h-1zM100 200h7v1h-7zM645 200h6v1h-6zM42 201h1v1h-1zM100 201h1v1h-1zM650 201h1v1h-1zM42 202h1v1h-1zM100 202h1v1h-1zM650 202h1v1h-1zM43 203h1v1h-1zM100 203h1v1h-1zM650 203h1v1h-1zM42 204h10v1h-10zM100 204h1v1h-1zM650 204h1v1h-1zM100 205h1v1h-1zM650 205h1v1h-1zM100 206h1v1h-1zM650 206h1v1h-1zM100 207h1v1h-1zM650 207h1v1h-1zM100 208h7v1h-7zM645 208h6v1h-6zM43 209h4v1h-4zM49 209h1v1h-1zM100 209h1v1h-1zM650 209h1v1h-1zM42 210h1v1h-1zM46 210h1v1h-1zM50 210h1v1h-1zM100 210h1v1h-1zM650 210h1v1h-1zM42 211h1v1h-1zM46 211h1v1h-1zM51 211h1v1h-1zM100 211h1v1h-1zM650 211h1v1h-1zM42 212h1v1h-1zM46 212h1v1h-1zM51 212h1v1h-1zM100 212h1v1h-1zM650 212h1v1h-1zM42 213h1v1h-1zM46 213h1v1h-1zM51 213h1v1h-1zM100 213h1v1h-1zM650 213h1v1h-1zM42 214h1v1h-1zM46 214h1v1h-1zM50 214h1v1h-1zM100 214h1v1h-1zM650 214h1v1h-1zM43 215h1v1h-1zM46 215h1v1h-1zM50 215h1v1h-1zM100 215h1v1h-1zM650 215h1v1h-1zM44 216h6v1h-6zM100 216h1v1h-1zM650 216h1v1h-1zM100 217h7v1h-7zM645 217h6v1h-6zM100 218h1v1h-1zM650 218h1v1h-1zM100 219h1v1h-1zM650 219h1v1h-1zM100 220h1v1h-1zM650 220h1v1h-1zM42 221h10v1h-10zM100 221h1v1h-1zM650 221h1v1h-1zM42 222h1v1h-1zM100 222h1v1h-1zM650 222h1v1h-1zM42 223h1v1h-1zM100 223h1v1h-1zM650 223h1v1h-1zM42 224h1v1h-1zM100 224h1v1h-1zM650 224h1v1h-1zM42 225h1v1h-1zM100 225h1v1h-1zM650 225h1v1h-1zM42 226h1v1h-1zM101 226h3v1h-3zM105 226h2v1h-2zM645 226h3v1h-3zM649 226h2v1h-2zM43 227h1v1h-1zM100 227h1v1h-1zM650 227h1v1h-1zM42 228h10v1h-10zM100 228h1v1h-1zM650 228h1v1h-1zM42 229h1v1h-1zM100 229h1v1h-1zM650 229h1v1h-1zM42 230h1v1h-1zM100 230h1v1h-1zM650 230h1v1h-1zM42 231h1v1h-1zM100 231h1v1h-1zM650 231h1v1h-1zM42 232h1v1h-1zM100 232h1v1h-1zM650 232h1v1h-1zM42 233h1v1h-1zM100 233h1v1h-1zM650 233h1v1h-1zM43 234h1v1h-1zM100 234h7v1h-7zM645 234h6v1h-6zM42 235h10v1h-10zM100 235h1v1h-1zM650 235h1v1h-1zM100 236h1v1h-1zM650 236h1v1h-1zM100 237h1v1h-1zM650 237h1v1h-1zM100 238h1v1h-1zM650 238h1v1h-1zM100 239h1v1h-1zM650 239h1v1h-1zM42 240h10v1h-10zM100 240h1v1h-1zM650 240h1v1h-1zM42 241h1v1h-1zM100 241h1v1h-1zM650 241h1v1h-1zM42 242h1v1h-1zM100 242h1v1h-1zM650 242h1v1h-1zM42 243h1v1h-1zM100 243h7v1h-7zM645 243h6v1h-6zM42 244h1v1h-1zM100 244h1v1h-1zM650 244h1v1h-1zM42 245h1v1h-1zM100 245h1v1h-1zM650 245h1v1h-1zM43 246h1v1h-1zM100 246h1v1h-1zM650 246h1v1h-1zM42 247h10v1h-10zM100 247h1v1h-1zM650 247h1v1h-1zM100 248h1v1h-1zM650 248h1v1h-1zM100 249h1v1h-1zM650 249h1v1h-1zM100 250h1v1h-1zM650 250h1v1h-1zM44 251h3v1h-3zM49 251h1v1h-1zM100 251h7v1h-7zM645 251h6v1h-6zM42 252h2v1h-2zM46 252h1v1h-1zM50 252h1v1h-1zM100 252h1v1h-1zM650 252h1v1h-1zM42 253h1v1h-1zM46 253h1v1h-1zM50 253h1v1h-1zM100 253h1v1h-1zM650 253h1v1h-1zM42 254h1v1h-1zM46 254h1v1h-1zM51 254h1v1h-1zM100 254h1v1h-1zM650 254h1v1h-1zM42 255h1v1h-1zM46 255h1v1h-1zM51 255h1v1h-1zM100 255h1v1h-1zM650 255h1v1h-1zM42 256h1v1h-1zM46 256h1v1h-1zM51 256h1v1h-1zM100 256h1v1h-1zM650 256h1v1h-1zM42 257h1v1h-1zM46 257h1v1h-1zM50 257h1v1h-1zM100 257h1v1h-1zM650 257h1v1h-1zM43 258h2v1h-2zM46 258h1v1h-1zM48 258h2v1h-2zM100 258h1v1h-1zM650 258h1v1h-1zM45 259h3v1h-3zM100 259h7v1h-7zM645 259h6v1h-6zM100 260h1v1h-1zM650 260h1v1h-1zM100 261h1v1h-1zM650 261h1v1h-1zM73 262h4v1h-4zM86 262h3v1h-3zM100 262h1v1h-1zM650 262h1v1h-1zM42 263h12v1h-12zM71 263h2v1h-2zM77 263h2v1h-2zM84 263h2v1h-2zM89 263h2v1h-2zM100 263h1v1h-1zM650 263h1v1h-1zM42 264h2v1h-2zM50 264h1v1h-1zM54 264h2v1h-2zM71 264h1v1h-1zM78 264h1v1h-1zM83 264h1v1h-1zM91 264h1v1h-1zM100 264h1v1h-1zM650 264h1v1h-1zM42 265h1v1h-1zM50 265h1v1h-1zM56 265h1v1h-1zM71 265h1v1h-1zM78 265h1v1h-1zM83 265h1v1h-1zM91 265h1v1h-1zM100 265h1v1h-1zM650 265h1v1h-1zM42 266h1v1h-1zM51 266h1v1h-1zM56 266h1v1h-1zM78 266h1v1h-1zM83 266h1v1h-1zM91 266h1v1h-1zM100 266h1v1h-1zM650 266h1v1h-1zM42 267h1v1h-1zM51 267h1v1h-1zM56 267h1v1h-1zM78 267h1v1h-1zM83 267h1v1h-1zM91 267h1v1h-1zM100 267h1v1h-1zM650 267h1v1h-1zM42 268h1v1h-1zM51 268h1v1h-1zM55 268h1v1h-1zM77 268h1v1h-1zM83 268h1v1h-1zM91 268h1v1h-1zM100 268h3v1h-3zM104 268h3v1h-3zM108 268h3v1h-3zM640 268h3v1h-3zM644 268h3v1h-3zM648 268h3v1h-3zM42 269h1v1h-1zM50 269h1v1h-1zM55 269h1v1h-1zM76 269h1v1h-1zM83 269h1v1h-1zM91 269h1v1h-1zM100 269h1v1h-1zM650 269h1v1h-1zM43 270h2v1h-2zM48 270h2v1h-2zM75 270h1v1h-1zM83 270h1v1h-1zM91 270h1v1h-1zM100 270h1v1h-1zM650 270h1v1h-1zM45 271h3v1h-3zM74 271h1v1h-1zM83 271h1v1h-1zM91 271h1v1h-1zM100 271h1v1h-1zM650 271h1v1h-1zM73 272h1v1h-1zM83 272h1v1h-1zM91 272h1v1h-1zM100 272h1v1h-1zM650 272h1v1h-1zM72 273h1v1h-1zM83 273h1v1h-1zM90 273h2v1h-2zM100 273h1v1h-1zM650 273h1v1h-1zM44 274h3v1h-3zM49 274h1v1h-1zM71 274h1v1h-1zM84 274h1v1h-1zM88 274h2v1h-2zM100 274h1v1h-1zM650 274h1v1h-1zM43 275h1v1h-1zM46 275h1v1h-1zM49 275h1v1h-1zM70 275h10v1h-10zM85 275h3v1h-3zM100 275h1v1h-1zM650 275h1v1h-1zM42 276h1v1h-1zM46 276h1v1h-1zM50 276h1v1h-1zM100 276h1v1h-1zM650 276h1v1h-1zM42 277h1v1h-1zM46 277h1v1h-1zM51 277h1v1h-1zM100 277h7v1h-7zM645 277h6v1h-6zM42 278h1v1h-1zM46 278h1v1h-1zM51 278h1v1h-1zM100 278h1v1h-1zM650 278h1v1h-1zM42 279h1v1h-1zM46 279h1v1h-1zM51 279h1v1h-1zM100 279h1v1h-1zM650 279h1v1h-1zM42 280h1v1h-1zM46 280h1v1h-1zM50 280h1v1h-1zM100 280h1v1h-1zM650 280h1v1h-1zM43 281h2v1h-2zM46 281h1v1h-1zM48 281h2v1h-2zM100 281h1v1h-1zM650 281h1v1h-1zM45 282h3v1h-3zM100 282h1v1h-1zM650 282h1v1h-1zM100 283h1v1h-1zM650 283h1v1h-1zM100 284h1v1h-1zM650 284h1v1h-1zM100 285h7v1h-7zM645 285h6v1h-6zM39 286h4v1h-4zM51 286h1v1h-1zM100 286h1v1h-1zM650 286h1v1h-1zM38 287h1v1h-1zM43 287h1v1h-1zM49 287h2v1h-2zM100 287h1v1h-1zM650 287h1v1h-1zM38 288h1v1h-1zM44 288h1v1h-1zM47 288h2v1h-2zM100 288h1v1h-1zM650 288h1v1h-1zM37 289h1v1h-1zM44 289h3v1h-3zM100 289h1v1h-1zM650 289h1v1h-1zM37 290h1v1h-1zM44 290h1v1h-1zM100 290h1v1h-1zM650 290h1v1h-1zM37 291h1v1h-1zM44 291h1v1h-1zM100 291h1v1h-1zM650 291h1v1h-1zM37 292h1v1h-1zM44 292h1v1h-1zM100 292h1v1h-1zM650 292h1v1h-1zM37 293h1v1h-1zM44 293h1v1h-1zM100 293h1v1h-1zM650 293h1v1h-1zM37 294h1v1h-1zM44 294h1v1h-1zM100 294h7v1h-7zM645 294h6v1h-6zM37 295h15v1h-15zM100 295h1v1h-1zM650 295h1v1h-1zM100 296h1v1h-1zM650 296h1v1h-1zM100 297h1v1h-1zM650 297h1v1h-1zM100 298h1v1h-1zM650 298h1v1h-1zM100 299h1v1h-1zM650 299h1v1h-1zM100 300h1v1h-1zM650 300h1v1h-1zM100 301h1v1h-1zM650 301h1v1h-1zM100 302h7v1h-7zM645 302h6v1h-6zM100 303h1v1h-1zM650 303h1v1h-1zM100 304h1v1h-1zM650 304h1v1h-1zM100 305h1v1h-1zM650 305h1v1h-1zM100 306h1v1h-1zM650 306h1v1h-1zM100 307h1v1h-1zM650 307h1v1h-1zM100 308h1v1h-1zM650 308h1v1h-1zM44 309h3v1h-3zM49 309h1v1h-1zM100 309h1v1h-1zM650 309h1v1h-1zM42 310h2v1h-2zM46 310h1v1h-1zM50 310h1v1h-1zM100 310h7v1h-7zM645 310h6v1h-6zM42 311h1v1h-1zM46 311h1v1h-1zM50 311h1v1h-1zM100 311h1v1h-1zM42 312h1v1h-1zM46 312h1v1h-1zM51 312h1v1h-1zM100 312h1v1h-1zM650 312h1v1h-1zM42 313h1v1h-1zM46 313h1v1h-1zM51 313h1v1h-1zM100 313h1v1h-1zM650 313h1v1h-1zM42 314h1v1h-1zM46 314h1v1h-1zM51 314h1v1h-1zM100 314h1v1h-1zM650 314h1v1h-1zM42 315h1v1h-1zM46 315h1v1h-1zM50 315h1v1h-1zM100 315h1v1h-1zM650 315h1v1h-1zM43 316h2v1h-2zM46 316h1v1h-1zM48 316h2v1h-2zM100 316h1v1h-1zM650 316h1v1h-1zM45 317h3v1h-3zM100 317h1v1h-1zM650 317h1v1h-1zM100 318h1v1h-1zM650 318h1v1h-1zM100 319h7v1h-7zM645 319h6v1h-6zM51 320h1v1h-1zM100 320h1v1h-1zM650 320h1v1h-1zM42 321h1v1h-1zM51 321h1v1h-1zM100 321h1v1h-1zM650 321h1v1h-1zM42 322h1v1h-1zM49 322h2v1h-2zM100 322h1v1h-1zM650 322h1v1h-1zM37 323h12v1h-12zM100 323h1v1h-1zM650 323h1v1h-1zM42 324h1v1h-1zM100 324h1v1h-1zM650 324h1v1h-1zM42 325h1v1h-1zM100 325h1v1h-1zM650 325h1v1h-1zM100 326h1v1h-1zM650 326h1v1h-1zM42 327h1v1h-1zM100 327h7v1h-7zM645 327h6v1h-6zM42 328h1v1h-1zM100 328h1v1h-1zM650 328h1v1h-1zM42 329h1v1h-1zM100 329h1v1h-1zM650 329h1v1h-1zM42 330h2v1h-2zM100 330h1v1h-1zM650 330h1v1h-1zM44 331h2v1h-2zM100 331h1v1h-1zM650 331h1v1h-1zM42 332h10v1h-10zM100 332h1v1h-1zM650 332h1v1h-1zM100 333h1v1h-1zM650 333h1v1h-1zM100 334h1v1h-1zM650 334h1v1h-1zM100 335h1v1h-1zM650 335h1v1h-1zM44 336h3v1h-3zM49 336h1v1h-1zM100 336h7v1h-7zM645 336h6v1h-6zM43 337h1v1h-1zM46 337h1v1h-1zM49 337h1v1h-1zM100 337h1v1h-1zM650 337h1v1h-1zM42 338h1v1h-1zM46 338h1v1h-1zM50 338h1v1h-1zM100 338h1v1h-1zM650 338h1v1h-1zM42 339h1v1h-1zM46 339h1v1h-1zM51 339h1v1h-1zM100 339h1v1h-1zM650 339h1v1h-1zM42 340h1v1h-1zM46 340h1v1h-1zM51 340h1v1h-1zM100 340h1v1h-1zM650 340h1v1h-1zM42 341h1v1h-1zM46 341h1v1h-1zM51 341h1v1h-1zM100 341h1v1h-1zM650 341h1v1h-1zM42 342h1v1h-1zM46 342h1v1h-1zM50 342h1v1h-1zM100 342h1v1h-1zM650 342h1v1h-1zM43 343h2v1h-2zM46 343h1v1h-1zM48 343h2v1h-2zM100 343h1v1h-1zM650 343h1v1h-1zM45 344h3v1h-3zM100 344h7v1h-7zM645 344h6v1h-6zM100 345h1v1h-1zM650 345h1v1h-1zM100 346h1v1h-1zM650 346h1v1h-1zM75 347h1v1h-1zM86 347h3v1h-3zM100 347h1v1h-1zM650 347h1v1h-1zM37 348h2v1h-2zM42 348h10v1h-10zM74 348h2v1h-2zM84 348h2v1h-2zM89 348h2v1h-2zM100 348h1v1h-1zM650 348h1v1h-1zM37 349h1v1h-1zM72 349h2v1h-2zM75 349h1v1h-1zM83 349h1v1h-1zM91 349h1v1h-1zM100 349h1v1h-1zM650 349h1v1h-1zM75 350h1v1h-1zM83 350h1v1h-1zM91 350h1v1h-1zM100 350h1v1h-1zM650 350h1v1h-1zM75 351h1v1h-1zM83 351h1v1h-1zM91 351h1v1h-1zM100 351h1v1h-1zM650 351h1v1h-1zM75 352h1v1h-1zM83 352h1v1h-1zM91 352h1v1h-1zM100 352h1v1h-1zM650 352h1v1h-1zM37 353h15v1h-15zM75 353h1v1h-1zM83 353h1v1h-1zM91 353h1v1h-1zM100 353h1v1h-1zM102 353h3v1h-3zM106 353h3v1h-3zM110 353h2v1h-2zM639 353h2v1h-2zM642 353h3v1h-3zM646 353h3v1h-3zM650 353h1v1h-1zM75 354h1v1h-1zM83 354h1v1h-1zM91 354h1v1h-1zM100 354h1v1h-1zM650 354h1v1h-1zM75 355h1v1h-1zM83 355h1v1h-1zM91 355h1v1h-1zM100 355h1v1h-1zM650 355h1v1h-1zM75 356h1v1h-1zM83 356h1v1h-1zM91 356h1v1h-1zM100 356h1v1h-1zM650 356h1v1h-1zM75 357h1v1h-1zM83 357h1v1h-1zM91 357h1v1h-1zM100 357h1v1h-1zM650 357h1v1h-1zM42 358h10v1h-10zM75 358h1v1h-1zM83 358h1v1h-1zM90 358h2v1h-2zM100 358h1v1h-1zM650 358h1v1h-1zM49 359h1v1h-1zM75 359h1v1h-1zM84 359h1v1h-1zM88 359h2v1h-2zM100 359h1v1h-1zM650 359h1v1h-1zM50 360h1v1h-1zM75 360h1v1h-1zM85 360h3v1h-3zM100 360h1v1h-1zM650 360h1v1h-1zM50 361h1v1h-1zM100 361h1v1h-1zM650 361h1v1h-1zM51 362h1v1h-1zM100 362h7v1h-7zM645 362h6v1h-6zM51 363h1v1h-1zM100 363h1v1h-1zM650 363h1v1h-1zM51 364h1v1h-1zM100 364h1v1h-1zM650 364h1v1h-1zM42 365h9v1h-9zM100 365h1v1h-1zM650 365h1v1h-1zM100 366h1v1h-1zM650 366h1v1h-1zM100 367h1v1h-1zM650 367h1v1h-1zM100 368h1v1h-1zM650 368h1v1h-1zM100 369h1v1h-1zM650 369h1v1h-1zM43 370h9v1h-9zM100 370h7v1h-7zM645 370h6v1h-6zM42 371h1v1h-1zM100 371h1v1h-1zM650 371h1v1h-1zM42 372h1v1h-1zM100 372h1v1h-1zM650 372h1v1h-1zM42 373h1v1h-1zM100 373h1v1h-1zM650 373h1v1h-1zM42 374h1v1h-1zM100 374h1v1h-1zM650 374h1v1h-1zM42 375h1v1h-1zM100 375h1v1h-1zM650 375h1v1h-1zM42 376h2v1h-2zM100 376h1v1h-1zM650 376h1v1h-1zM43 377h9v1h-9zM100 377h1v1h-1zM650 377h1v1h-1zM42 378h1v1h-1zM100 378h1v1h-1zM650 378h1v1h-1zM42 379h1v1h-1zM100 379h7v1h-7zM645 379h6v1h-6zM42 380h1v1h-1zM100 380h1v1h-1zM650 380h1v1h-1zM42 381h1v1h-1zM100 381h1v1h-1zM650 381h1v1h-1zM42 382h1v1h-1zM100 382h1v1h-1zM650 382h1v1h-1zM43 383h1v1h-1zM100 383h1v1h-1zM650 383h1v1h-1zM42 384h10v1h-10zM100 384h1v1h-1zM650 384h1v1h-1zM100 385h1v1h-1zM650 385h1v1h-1zM100 386h1v1h-1zM650 386h1v1h-1zM100 387h7v1h-7zM645 387h6v1h-6zM100 388h1v1h-1zM650 388h1v1h-1zM42 389h10v1h-10zM100 389h1v1h-1zM650 389h1v1h-1zM49 390h1v1h-1zM100 390h1v1h-1zM650 390h1v1h-1zM50 391h1v1h-1zM100 391h1v1h-1zM650 391h1v1h-1zM50 392h1v1h-1zM100 392h1v1h-1zM650 392h1v1h-1zM51 393h1v1h-1zM100 393h1v1h-1zM650 393h1v1h-1zM51 394h1v1h-1zM100 394h1v1h-1zM650 394h1v1h-1zM51 395h1v1h-1zM100 395h7v1h-7zM645 395h6v1h-6zM42 396h9v1h-9zM650 396h1v1h-1zM100 397h1v1h-1zM650 397h1v1h-1zM100 398h1v1h-1zM650 398h1v1h-1zM100 399h1v1h-1zM650 399h1v1h-1zM51 400h1v1h-1zM100 400h1v1h-1zM650 400h1v1h-1zM42 401h1v1h-1zM50 401h1v1h-1zM100 401h1v1h-1zM650 401h1v1h-1zM43 402h1v1h-1zM49 402h1v1h-1zM100 402h1v1h-1zM650 402h1v1h-1zM44 403h1v1h-1zM48 403h1v1h-1zM100 403h1v1h-1zM650 403h1v1h-1zM45 404h1v1h-1zM47 404h1v1h-1zM100 404h7v1h-7zM645 404h6v1h-6zM46 405h1v1h-1zM100 405h1v1h-1zM650 405h1v1h-1zM47 406h1v1h-1zM100 406h1v1h-1zM650 406h1v1h-1zM37 407h15v1h-15zM100 407h1v1h-1zM650 407h1v1h-1zM100 408h1v1h-1zM650 408h1v1h-1zM100 409h1v1h-1zM650 409h1v1h-1zM100 410h1v1h-1zM650 410h1v1h-1zM51 411h1v1h-1zM100 411h1v1h-1zM650 411h1v1h-1zM42 412h1v1h-1zM50 412h1v1h-1zM100 412h1v1h-1zM650 412h1v1h-1zM43 413h1v1h-1zM48 413h2v1h-2zM100 413h7v1h-7zM645 413h6v1h-6zM44 414h1v1h-1zM47 414h1v1h-1zM100 414h1v1h-1zM650 414h1v1h-1zM45 415h2v1h-2zM100 415h1v1h-1zM650 415h1v1h-1zM46 416h1v1h-1zM100 416h1v1h-1zM650 416h1v1h-1zM47 417h1v1h-1zM100 417h1v1h-1zM650 417h1v1h-1zM37 418h15v1h-15zM100 418h1v1h-1zM650 418h1v1h-1zM100 419h1v1h-1zM650 419h1v1h-1zM100 420h1v1h-1zM650 420h1v1h-1zM50 421h2v1h-2zM100 421h7v1h-7zM645 421h6v1h-6zM47 422h3v1h-3zM100 422h1v1h-1zM650 422h1v1h-1zM44 423h3v1h-3zM100 423h1v1h-1zM650 423h1v1h-1zM42 424h2v1h-2zM46 424h1v1h-1zM100 424h1v1h-1zM650 424h1v1h-1zM39 425h3v1h-3zM46 425h1v1h-1zM86 425h3v1h-3zM100 425h1v1h-1zM650 425h1v1h-1zM37 426h2v1h-2zM46 426h1v1h-1zM84 426h2v1h-2zM89 426h2v1h-2zM100 426h1v1h-1zM650 426h1v1h-1zM39 427h3v1h-3zM46 427h1v1h-1zM83 427h1v1h-1zM91 427h1v1h-1zM100 427h1v1h-1zM650 427h1v1h-1zM42 428h2v1h-2zM46 428h1v1h-1zM83 428h1v1h-1zM91 428h1v1h-1zM100 428h1v1h-1zM650 428h1v1h-1zM44 429h3v1h-3zM83 429h1v1h-1zM91 429h1v1h-1zM100 429h1v1h-1zM650 429h1v1h-1zM47 430h3v1h-3zM83 430h1v1h-1zM91 430h1v1h-1zM100 430h7v1h-7zM645 430h6v1h-6zM50 431h2v1h-2zM83 431h1v1h-1zM91 431h1v1h-1zM100 431h1v1h-1zM169 431h1v1h-1zM237 431h1v1h-1zM306 431h1v1h-1zM375 431h1v1h-1zM444 431h1v1h-1zM512 431h1v1h-1zM581 431h1v1h-1zM650 431h1v1h-1zM83 432h1v1h-1zM91 432h1v1h-1zM100 432h1v1h-1zM169 432h1v1h-1zM237 432h1v1h-1zM306 432h1v1h-1zM375 432h1v1h-1zM444 432h1v1h-1zM512 432h1v1h-1zM581 432h1v1h-1zM650 432h1v1h-1zM83 433h1v1h-1zM91 433h1v1h-1zM100 433h1v1h-1zM169 433h1v1h-1zM237 433h1v1h-1zM306 433h1v1h-1zM375 433h1v1h-1zM444 433h1v1h-1zM512 433h1v1h-1zM581 433h1v1h-1zM650 433h1v1h-1zM83 434h1v1h-1zM91 434h1v1h-1zM100 434h1v1h-1zM650 434h1v1h-1zM83 435h1v1h-1zM91 435h1v1h-1zM100 435h1v1h-1zM169 435h1v1h-1zM237 435h1v1h-1zM306 435h1v1h-1zM375 435h1v1h-1zM444 435h1v1h-1zM512 435h1v1h-1zM581 435h1v1h-1zM650 435h1v1h-1zM83 436h1v1h-1zM90 436h2v1h-2zM100 436h1v1h-1zM169 436h1v1h-1zM237 436h1v1h-1zM306 436h1v1h-1zM375 436h1v1h-1zM444 436h1v1h-1zM512 436h1v1h-1zM581 436h1v1h-1zM650 436h1v1h-1zM84 437h1v1h-1zM88 437h2v1h-2zM100 437h1v1h-1zM169 437h1v1h-1zM237 437h1v1h-1zM306 437h1v1h-1zM375 437h1v1h-1zM444 437h1v1h-1zM512 437h1v1h-1zM581 437h1v1h-1zM650 437h1v1h-1zM85 438h3v1h-3zM191 438h46v1h-46zM238 438h68v1h-68zM307 438h68v1h-68zM376 438h68v1h-68zM445 438h67v1h-67zM513 438h68v1h-68zM582 438h69v1h-69zM90 452h6v1h-6zM103 452h6v1h-6zM159 452h6v1h-6zM171 452h8v1h-8zM228 452h6v1h-6zM241 452h6v1h-6zM297 452h6v1h-6zM309 452h5v1h-5zM368 452h1v1h-1zM378 452h6v1h-6zM437 452h1v1h-1zM446 452h7v1h-7zM506 452h1v1h-1zM515 452h7v1h-7zM572 452h6v1h-6zM587 452h1v1h-1zM640 452h6v1h-6zM653 452h6v1h-6zM89 453h1v1h-1zM96 453h1v1h-1zM102 453h1v1h-1zM108 453h1v1h-1zM158 453h1v1h-1zM164 453h1v1h-1zM177 453h1v1h-1zM227 453h1v1h-1zM233 453h1v1h-1zM240 453h1v1h-1zM246 453h1v1h-1zM296 453h1v1h-1zM302 453h1v1h-1zM309 453h1v1h-1zM314 453h1v1h-1zM368 453h1v1h-1zM377 453h1v1h-1zM383 453h1v1h-1zM436 453h2v1h-2zM446 453h1v1h-1zM505 453h2v1h-2zM514 453h1v1h-1zM521 453h1v1h-1zM571 453h1v1h-1zM577 453h1v1h-1zM586 453h2v1h-2zM639 453h1v1h-1zM646 453h1v1h-1zM652 453h1v1h-1zM658 453h1v1h-1zM89 454h1v1h-1zM97 454h1v1h-1zM102 454h1v1h-1zM109 454h1v1h-1zM158 454h1v1h-1zM165 454h1v1h-1zM176 454h1v1h-1zM227 454h1v1h-1zM234 454h1v1h-1zM240 454h1v1h-1zM247 454h1v1h-1zM295 454h1v1h-1zM303 454h1v1h-1zM308 454h1v1h-1zM315 454h1v1h-1zM365 454h4v1h-4zM377 454h1v1h-1zM384 454h1v1h-1zM434 454h2v1h-2zM437 454h1v1h-1zM446 454h1v1h-1zM503 454h2v1h-2zM506 454h1v1h-1zM514 454h1v1h-1zM522 454h1v1h-1zM570 454h1v1h-1zM578 454h1v1h-1zM584 454h2v1h-2zM587 454h1v1h-1zM639 454h1v1h-1zM647 454h1v1h-1zM652 454h1v1h-1zM659 454h1v1h-1zM89 455h1v1h-1zM97 455h1v1h-1zM102 455h1v1h-1zM109 455h1v1h-1zM158 455h1v1h-1zM165 455h1v1h-1zM176 455h1v1h-1zM227 455h1v1h-1zM234 455h1v1h-1zM240 455h1v1h-1zM295 455h1v1h-1zM303 455h1v1h-1zM307 455h1v1h-1zM315 455h1v1h-1zM368 455h1v1h-1zM377 455h1v1h-1zM384 455h1v1h-1zM437 455h1v1h-1zM445 455h1v1h-1zM506 455h1v1h-1zM514 455h1v1h-1zM522 455h1v1h-1zM570 455h1v1h-1zM578 455h1v1h-1zM587 455h1v1h-1zM639 455h1v1h-1zM647 455h1v1h-1zM652 455h1v1h-1zM659 455h1v1h-1zM89 456h1v1h-1zM97 456h1v1h-1zM101 456h1v1h-1zM110 456h1v1h-1zM157 456h1v1h-1zM166 456h1v1h-1zM175 456h1v1h-1zM226 456h1v1h-1zM235 456h1v1h-1zM239 456h1v1h-1zM295 456h1v1h-1zM303 456h1v1h-1zM307 456h1v1h-1zM315 456h1v1h-1zM368 456h1v1h-1zM383 456h1v1h-1zM437 456h1v1h-1zM445 456h1v1h-1zM447 456h4v1h-4zM506 456h1v1h-1zM515 456h1v1h-1zM521 456h1v1h-1zM577 456h1v1h-1zM587 456h1v1h-1zM639 456h1v1h-1zM647 456h1v1h-1zM651 456h1v1h-1zM660 456h1v1h-1zM89 457h1v1h-1zM97 457h1v1h-1zM101 457h1v1h-1zM110 457h1v1h-1zM157 457h1v1h-1zM166 457h1v1h-1zM174 457h4v1h-4zM226 457h1v1h-1zM235 457h1v1h-1zM239 457h1v1h-1zM241 457h5v1h-5zM295 457h1v1h-1zM303 457h1v1h-1zM307 457h1v1h-1zM315 457h1v1h-1zM368 457h1v1h-1zM383 457h1v1h-1zM437 457h1v1h-1zM445 457h2v1h-2zM451 457h2v1h-2zM506 457h1v1h-1zM516 457h5v1h-5zM577 457h1v1h-1zM587 457h1v1h-1zM639 457h1v1h-1zM647 457h1v1h-1zM651 457h1v1h-1zM660 457h1v1h-1zM89 458h1v1h-1zM97 458h1v1h-1zM101 458h1v1h-1zM110 458h1v1h-1zM157 458h1v1h-1zM166 458h1v1h-1zM178 458h1v1h-1zM226 458h1v1h-1zM235 458h1v1h-1zM239 458h2v1h-2zM246 458h1v1h-1zM295 458h1v1h-1zM303 458h1v1h-1zM308 458h1v1h-1zM315 458h1v1h-1zM368 458h1v1h-1zM382 458h1v1h-1zM437 458h1v1h-1zM453 458h1v1h-1zM506 458h1v1h-1zM515 458h1v1h-1zM519 458h2v1h-2zM576 458h1v1h-1zM587 458h1v1h-1zM639 458h1v1h-1zM647 458h1v1h-1zM651 458h1v1h-1zM660 458h1v1h-1zM89 459h1v1h-1zM97 459h1v1h-1zM101 459h1v1h-1zM110 459h1v1h-1zM157 459h1v1h-1zM166 459h1v1h-1zM178 459h1v1h-1zM226 459h1v1h-1zM235 459h1v1h-1zM239 459h2v1h-2zM247 459h1v1h-1zM295 459h1v1h-1zM303 459h1v1h-1zM309 459h2v1h-2zM313 459h3v1h-3zM368 459h1v1h-1zM382 459h1v1h-1zM437 459h1v1h-1zM453 459h1v1h-1zM506 459h1v1h-1zM514 459h1v1h-1zM521 459h2v1h-2zM576 459h1v1h-1zM587 459h1v1h-1zM639 459h1v1h-1zM647 459h1v1h-1zM651 459h1v1h-1zM660 459h1v1h-1zM89 460h1v1h-1zM97 460h1v1h-1zM101 460h1v1h-1zM110 460h1v1h-1zM157 460h1v1h-1zM166 460h1v1h-1zM178 460h1v1h-1zM226 460h1v1h-1zM235 460h1v1h-1zM239 460h1v1h-1zM247 460h1v1h-1zM295 460h1v1h-1zM303 460h1v1h-1zM311 460h2v1h-2zM315 460h1v1h-1zM368 460h1v1h-1zM381 460h1v1h-1zM437 460h1v1h-1zM453 460h1v1h-1zM506 460h1v1h-1zM513 460h1v1h-1zM522 460h1v1h-1zM575 460h1v1h-1zM587 460h1v1h-1zM639 460h1v1h-1zM647 460h1v1h-1zM651 460h1v1h-1zM660 460h1v1h-1zM89 461h1v1h-1zM97 461h1v1h-1zM102 461h1v1h-1zM109 461h1v1h-1zM158 461h1v1h-1zM165 461h1v1h-1zM178 461h1v1h-1zM227 461h1v1h-1zM234 461h1v1h-1zM239 461h1v1h-1zM247 461h1v1h-1zM295 461h1v1h-1zM303 461h1v1h-1zM315 461h1v1h-1zM368 461h1v1h-1zM380 461h1v1h-1zM437 461h1v1h-1zM453 461h1v1h-1zM506 461h1v1h-1zM513 461h1v1h-1zM522 461h1v1h-1zM574 461h1v1h-1zM587 461h1v1h-1zM639 461h1v1h-1zM647 461h1v1h-1zM652 461h1v1h-1zM659 461h1v1h-1zM89 462h1v1h-1zM97 462h1v1h-1zM102 462h1v1h-1zM109 462h1v1h-1zM158 462h1v1h-1zM165 462h1v1h-1zM170 462h1v1h-1zM178 462h1v1h-1zM227 462h1v1h-1zM234 462h1v1h-1zM240 462h1v1h-1zM247 462h1v1h-1zM295 462h1v1h-1zM303 462h1v1h-1zM315 462h1v1h-1zM368 462h1v1h-1zM379 462h1v1h-1zM437 462h1v1h-1zM445 462h1v1h-1zM453 462h1v1h-1zM506 462h1v1h-1zM513 462h1v1h-1zM522 462h1v1h-1zM573 462h1v1h-1zM587 462h1v1h-1zM639 462h1v1h-1zM647 462h1v1h-1zM652 462h1v1h-1zM659 462h1v1h-1zM90 463h1v1h-1zM96 463h1v1h-1zM103 463h1v1h-1zM109 463h1v1h-1zM159 463h1v1h-1zM165 463h1v1h-1zM170 463h1v1h-1zM178 463h1v1h-1zM228 463h1v1h-1zM234 463h1v1h-1zM240 463h1v1h-1zM246 463h2v1h-2zM296 463h1v1h-1zM303 463h1v1h-1zM308 463h1v1h-1zM314 463h1v1h-1zM368 463h1v1h-1zM378 463h1v1h-1zM437 463h1v1h-1zM445 463h1v1h-1zM453 463h1v1h-1zM506 463h1v1h-1zM513 463h1v1h-1zM522 463h1v1h-1zM572 463h1v1h-1zM587 463h1v1h-1zM640 463h1v1h-1zM646 463h1v1h-1zM653 463h1v1h-1zM659 463h1v1h-1zM90 464h1v1h-1zM94 464h2v1h-2zM103 464h1v1h-1zM107 464h2v1h-2zM159 464h1v1h-1zM163 464h2v1h-2zM170 464h3v1h-3zM177 464h1v1h-1zM228 464h1v1h-1zM232 464h2v1h-2zM241 464h1v1h-1zM244 464h2v1h-2zM297 464h1v1h-1zM301 464h2v1h-2zM308 464h2v1h-2zM313 464h1v1h-1zM368 464h1v1h-1zM377 464h1v1h-1zM437 464h1v1h-1zM445 464h3v1h-3zM452 464h1v1h-1zM506 464h1v1h-1zM514 464h3v1h-3zM521 464h2v1h-2zM571 464h1v1h-1zM587 464h1v1h-1zM640 464h1v1h-1zM644 464h2v1h-2zM653 464h1v1h-1zM657 464h2v1h-2zM91 465h3v1h-3zM104 465h3v1h-3zM160 465h3v1h-3zM173 465h4v1h-4zM229 465h3v1h-3zM242 465h2v1h-2zM298 465h3v1h-3zM310 465h3v1h-3zM368 465h1v1h-1zM376 465h10v1h-10zM437 465h1v1h-1zM448 465h4v1h-4zM506 465h1v1h-1zM517 465h4v1h-4zM570 465h9v1h-9zM587 465h1v1h-1zM641 465h3v1h-3zM654 465h3v1h-3zM401 473h1v1h-1zM442 473h1v1h-1zM374 474h1v1h-1zM400 474h1v1h-1zM443 474h2v1h-2zM301 475h1v1h-1zM324 475h1v1h-1zM347 475h1v1h-1zM373 475h1v1h-1zM375 475h1v1h-1zM380 475h1v1h-1zM399 475h1v1h-1zM408 475h5v1h-5zM419 475h1v1h-1zM433 475h1v1h-1zM445 475h1v1h-1zM301 476h1v1h-1zM324 476h1v1h-1zM347 476h1v1h-1zM374 476h1v1h-1zM380 476h1v1h-1zM399 476h1v1h-1zM406 476h2v1h-2zM413 476h1v1h-1zM419 476h1v1h-1zM433 476h1v1h-1zM445 476h1v1h-1zM301 477h1v1h-1zM324 477h1v1h-1zM347 477h1v1h-1zM380 477h1v1h-1zM398 477h1v1h-1zM405 477h1v1h-1zM414 477h1v1h-1zM419 477h1v1h-1zM433 477h1v1h-1zM446 477h1v1h-1zM301 478h1v1h-1zM324 478h1v1h-1zM347 478h1v1h-1zM380 478h1v1h-1zM397 478h1v1h-1zM405 478h1v1h-1zM419 478h1v1h-1zM433 478h1v1h-1zM446 478h1v1h-1zM301 479h1v1h-1zM324 479h1v1h-1zM347 479h1v1h-1zM380 479h1v1h-1zM397 479h1v1h-1zM406 479h1v1h-1zM419 479h1v1h-1zM433 479h1v1h-1zM446 479h1v1h-1zM301 480h1v1h-1zM313 480h6v1h-6zM324 480h1v1h-1zM330 480h1v1h-1zM336 480h7v1h-7zM347 480h1v1h-1zM351 480h8v1h-8zM364 480h5v1h-5zM374 480h1v1h-1zM378 480h5v1h-5zM397 480h1v1h-1zM406 480h1v1h-1zM417 480h6v1h-6zM427 480h7v1h-7zM447 480h1v1h-1zM301 481h1v1h-1zM312 481h1v1h-1zM319 481h1v1h-1zM324 481h1v1h-1zM329 481h1v1h-1zM335 481h1v1h-1zM342 481h1v1h-1zM347 481h1v1h-1zM357 481h1v1h-1zM363 481h1v1h-1zM369 481h1v1h-1zM374 481h1v1h-1zM380 481h1v1h-1zM397 481h1v1h-1zM407 481h3v1h-3zM419 481h1v1h-1zM426 481h1v1h-1zM433 481h1v1h-1zM447 481h1v1h-1zM301 482h1v1h-1zM311 482h1v1h-1zM319 482h1v1h-1zM324 482h1v1h-1zM328 482h1v1h-1zM334 482h1v1h-1zM342 482h1v1h-1zM347 482h1v1h-1zM356 482h1v1h-1zM362 482h1v1h-1zM370 482h1v1h-1zM374 482h1v1h-1zM380 482h1v1h-1zM397 482h1v1h-1zM410 482h2v1h-2zM419 482h1v1h-1zM425 482h1v1h-1zM433 482h1v1h-1zM447 482h1v1h-1zM301 483h1v1h-1zM311 483h1v1h-1zM319 483h1v1h-1zM324 483h1v1h-1zM326 483h2v1h-2zM334 483h1v1h-1zM342 483h1v1h-1zM347 483h1v1h-1zM355 483h1v1h-1zM362 483h9v1h-9zM374 483h1v1h-1zM380 483h1v1h-1zM397 483h1v1h-1zM412 483h2v1h-2zM419 483h1v1h-1zM425 483h1v1h-1zM433 483h1v1h-1zM447 483h1v1h-1zM301 484h1v1h-1zM311 484h1v1h-1zM319 484h1v1h-1zM324 484h1v1h-1zM326 484h2v1h-2zM334 484h1v1h-1zM342 484h1v1h-1zM347 484h1v1h-1zM354 484h1v1h-1zM362 484h1v1h-1zM374 484h1v1h-1zM380 484h1v1h-1zM397 484h1v1h-1zM414 484h1v1h-1zM419 484h1v1h-1zM425 484h1v1h-1zM433 484h1v1h-1zM447 484h1v1h-1zM301 485h1v1h-1zM311 485h1v1h-1zM319 485h1v1h-1zM324 485h2v1h-2zM328 485h1v1h-1zM334 485h1v1h-1zM342 485h1v1h-1zM347 485h1v1h-1zM354 485h1v1h-1zM362 485h1v1h-1zM374 485h1v1h-1zM380 485h1v1h-1zM397 485h1v1h-1zM414 485h1v1h-1zM419 485h1v1h-1zM425 485h1v1h-1zM433 485h1v1h-1zM447 485h1v1h-1zM301 486h1v1h-1zM312 486h1v1h-1zM319 486h1v1h-1zM324 486h1v1h-1zM329 486h1v1h-1zM335 486h1v1h-1zM342 486h1v1h-1zM347 486h1v1h-1zM353 486h1v1h-1zM363 486h1v1h-1zM374 486h1v1h-1zM380 486h1v1h-1zM397 486h1v1h-1zM414 486h1v1h-1zM419 486h1v1h-1zM426 486h1v1h-1zM433 486h1v1h-1zM446 486h1v1h-1zM301 487h1v1h-1zM312 487h1v1h-1zM319 487h1v1h-1zM324 487h1v1h-1zM330 487h1v1h-1zM335 487h1v1h-1zM341 487h2v1h-2zM347 487h1v1h-1zM352 487h1v1h-1zM363 487h1v1h-1zM369 487h2v1h-2zM374 487h1v1h-1zM380 487h1v1h-1zM397 487h1v1h-1zM405 487h1v1h-1zM414 487h1v1h-1zM420 487h1v1h-1zM426 487h1v1h-1zM433 487h1v1h-1zM438 487h1v1h-1zM446 487h1v1h-1zM301 488h9v1h-9zM313 488h6v1h-6zM324 488h1v1h-1zM331 488h1v1h-1zM336 488h5v1h-5zM342 488h1v1h-1zM347 488h1v1h-1zM351 488h8v1h-8zM364 488h5v1h-5zM374 488h1v1h-1zM380 488h4v1h-4zM398 488h1v1h-1zM406 488h8v1h-8zM420 488h3v1h-3zM427 488h7v1h-7zM437 488h3v1h-3zM446 488h1v1h-1zM398 489h1v1h-1zM445 489h1v1h-1zM399 490h1v1h-1zM445 490h1v1h-1zM400 491h1v1h-1zM444 491h1v1h-1zM400 492h1v1h-1zM444 492h1v1h-1zM401 493h1v1h-1zM442 493h2v1h-2zM21 508h9v1h-9zM19 509h3v1h-3zM29 509h3v1h-3zM18 510h2v1h-2zM31 510h2v1h-2zM17 511h2v1h-2zM32 511h2v1h-2zM16 512h2v1h-2zM33 512h2v1h-2zM69 512h1v1h-1zM115 512h1v1h-1zM168 512h1v1h-1zM177 512h1v1h-1zM15 513h2v1h-2zM22 513h3v1h-3zM26 513h3v1h-3zM34 513h2v1h-2zM69 513h1v1h-1zM115 513h1v1h-1zM168 513h1v1h-1zM177 513h1v1h-1zM14 514h2v1h-2zM20 514h3v1h-3zM28 514h2v1h-2zM35 514h2v1h-2zM69 514h1v1h-1zM115 514h1v1h-1zM168 514h1v1h-1zM177 514h1v1h-1zM14 515h2v1h-2zM20 515h2v1h-2zM35 515h2v1h-2zM69 515h1v1h-1zM115 515h1v1h-1zM168 515h1v1h-1zM177 515h1v1h-1zM14 516h2v1h-2zM19 516h2v1h-2zM35 516h2v1h-2zM44 516h6v1h-6zM51 516h4v1h-4zM60 516h4v1h-4zM67 516h5v1h-5zM75 516h5v1h-5zM84 516h5v1h-5zM93 516h5v1h-5zM100 516h6v1h-6zM110 516h6v1h-6zM120 516h5v1h-5zM128 516h1v1h-1zM130 516h3v1h-3zM144 516h5v1h-5zM153 516h6v1h-6zM160 516h4v1h-4zM168 516h5v1h-5zM177 516h1v1h-1zM179 516h4v1h-4zM14 517h2v1h-2zM19 517h2v1h-2zM35 517h2v1h-2zM44 517h2v1h-2zM49 517h2v1h-2zM55 517h1v1h-1zM59 517h1v1h-1zM64 517h1v1h-1zM69 517h1v1h-1zM74 517h1v1h-1zM79 517h1v1h-1zM83 517h1v1h-1zM89 517h1v1h-1zM93 517h1v1h-1zM99 517h1v1h-1zM105 517h1v1h-1zM109 517h1v1h-1zM115 517h1v1h-1zM119 517h1v1h-1zM124 517h1v1h-1zM128 517h2v1h-2zM143 517h1v1h-1zM148 517h1v1h-1zM153 517h2v1h-2zM158 517h2v1h-2zM164 517h1v1h-1zM168 517h1v1h-1zM173 517h1v1h-1zM177 517h2v1h-2zM183 517h1v1h-1zM14 518h2v1h-2zM19 518h1v1h-1zM35 518h2v1h-2zM44 518h1v1h-1zM49 518h1v1h-1zM55 518h1v1h-1zM58 518h1v1h-1zM64 518h1v1h-1zM69 518h1v1h-1zM74 518h1v1h-1zM80 518h1v1h-1zM83 518h1v1h-1zM89 518h1v1h-1zM93 518h1v1h-1zM99 518h1v1h-1zM105 518h1v1h-1zM108 518h1v1h-1zM115 518h1v1h-1zM118 518h1v1h-1zM124 518h1v1h-1zM128 518h2v1h-2zM142 518h1v1h-1zM148 518h1v1h-1zM153 518h1v1h-1zM158 518h1v1h-1zM164 518h1v1h-1zM168 518h1v1h-1zM174 518h1v1h-1zM177 518h1v1h-1zM183 518h1v1h-1zM14 519h2v1h-2zM19 519h1v1h-1zM35 519h2v1h-2zM44 519h1v1h-1zM49 519h1v1h-1zM55 519h1v1h-1zM58 519h7v1h-7zM69 519h1v1h-1zM74 519h7v1h-7zM83 519h1v1h-1zM89 519h1v1h-1zM93 519h1v1h-1zM99 519h1v1h-1zM105 519h1v1h-1zM108 519h1v1h-1zM115 519h1v1h-1zM118 519h1v1h-1zM124 519h1v1h-1zM128 519h1v1h-1zM142 519h1v1h-1zM148 519h1v1h-1zM153 519h1v1h-1zM158 519h1v1h-1zM164 519h1v1h-1zM168 519h1v1h-1zM174 519h1v1h-1zM177 519h1v1h-1zM183 519h1v1h-1zM14 520h2v1h-2zM19 520h2v1h-2zM35 520h2v1h-2zM44 520h1v1h-1zM49 520h1v1h-1zM55 520h1v1h-1zM58 520h1v1h-1zM69 520h1v1h-1zM74 520h1v1h-1zM83 520h1v1h-1zM89 520h1v1h-1zM93 520h1v1h-1zM99 520h1v1h-1zM105 520h1v1h-1zM108 520h1v1h-1zM115 520h1v1h-1zM118 520h1v1h-1zM124 520h1v1h-1zM128 520h1v1h-1zM142 520h1v1h-1zM148 520h1v1h-1zM153 520h1v1h-1zM158 520h1v1h-1zM164 520h1v1h-1zM168 520h1v1h-1zM174 520h1v1h-1zM177 520h1v1h-1zM183 520h1v1h-1zM14 521h2v1h-2zM19 521h2v1h-2zM35 521h2v1h-2zM44 521h1v1h-1zM49 521h1v1h-1zM55 521h1v1h-1zM59 521h1v1h-1zM64 521h1v1h-1zM69 521h1v1h-1zM74 521h1v1h-1zM80 521h1v1h-1zM83 521h1v1h-1zM89 521h1v1h-1zM93 521h1v1h-1zM99 521h1v1h-1zM105 521h1v1h-1zM109 521h1v1h-1zM115 521h1v1h-1zM119 521h1v1h-1zM124 521h1v1h-1zM128 521h1v1h-1zM143 521h1v1h-1zM148 521h1v1h-1zM153 521h1v1h-1zM158 521h1v1h-1zM164 521h1v1h-1zM168 521h1v1h-1zM173 521h1v1h-1zM177 521h1v1h-1zM183 521h1v1h-1zM14 522h2v1h-2zM20 522h2v1h-2zM35 522h2v1h-2zM44 522h1v1h-1zM49 522h1v1h-1zM55 522h1v1h-1zM60 522h1v1h-1zM63 522h1v1h-1zM69 522h1v1h-1zM75 522h1v1h-1zM79 522h1v1h-1zM84 522h1v1h-1zM88 522h1v1h-1zM93 522h1v1h-1zM100 522h1v1h-1zM104 522h2v1h-2zM110 522h1v1h-1zM114 522h2v1h-2zM120 522h1v1h-1zM123 522h2v1h-2zM128 522h1v1h-1zM144 522h1v1h-1zM147 522h2v1h-2zM153 522h1v1h-1zM158 522h1v1h-1zM164 522h1v1h-1zM168 522h2v1h-2zM172 522h1v1h-1zM177 522h1v1h-1zM183 522h1v1h-1zM15 523h2v1h-2zM20 523h3v1h-3zM28 523h3v1h-3zM34 523h2v1h-2zM44 523h1v1h-1zM49 523h1v1h-1zM55 523h1v1h-1zM61 523h2v1h-2zM70 523h2v1h-2zM76 523h3v1h-3zM85 523h3v1h-3zM93 523h1v1h-1zM101 523h3v1h-3zM105 523h1v1h-1zM111 523h3v1h-3zM115 523h1v1h-1zM121 523h2v1h-2zM124 523h1v1h-1zM128 523h1v1h-1zM145 523h2v1h-2zM148 523h1v1h-1zM153 523h1v1h-1zM158 523h1v1h-1zM164 523h1v1h-1zM168 523h1v1h-1zM170 523h2v1h-2zM177 523h1v1h-1zM183 523h1v1h-1zM16 524h2v1h-2zM22 524h3v1h-3zM26 524h2v1h-2zM33 524h2v1h-2zM148 524h1v1h-1zM17 525h2v1h-2zM32 525h2v1h-2zM148 525h1v1h-1zM18 526h2v1h-2zM31 526h2v1h-2zM144 526h1v1h-1zM147 526h2v1h-2zM19 527h2v1h-2zM30 527h2v1h-2zM145 527h2v1h-2zM20 528h2v1h-2zM29 528h2v1h-2zM21 529h9v1h-9z"/>
<path fill="#ff0000" d="M118 141h8v1h-8zM241 141h8v1h-8zM263 141h1v1h-1zM294 141h1v1h-1zM348 141h5v1h-5zM363 141h1v1h-1zM374 141h7v1h-7zM385 141h7v1h-7zM118 142h1v1h-1zM125 142h1v1h-1zM241 142h1v1h-1zM248 142h1v1h-1zM254 142h1v1h-1zM257 142h1v1h-1zM263 142h1v1h-1zM294 142h1v1h-1zM347 142h1v1h-1zM353 142h1v1h-1zM362 142h2v1h-2zM379 142h1v1h-1zM385 142h1v1h-1zM392 142h1v1h-1zM118 143h1v1h-1zM126 143h1v1h-1zM241 143h1v1h-1zM249 143h1v1h-1zM254 143h1v1h-1zM257 143h1v1h-1zM263 143h1v1h-1zM294 143h1v1h-1zM346 143h1v1h-1zM353 143h1v1h-1zM361 143h1v1h-1zM363 143h1v1h-1zM378 143h1v1h-1zM385 143h1v1h-1zM392 143h1v1h-1zM118 144h1v1h-1zM126 144h1v1h-1zM241 144h1v1h-1zM249 144h1v1h-1zM263 144h1v1h-1zM294 144h1v1h-1zM353 144h1v1h-1zM360 144h1v1h-1zM363 144h1v1h-1zM378 144h1v1h-1zM385 144h1v1h-1zM392 144h1v1h-1zM118 145h1v1h-1zM125 145h1v1h-1zM131 145h5v1h-5zM141 145h5v1h-5zM151 145h5v1h-5zM160 145h6v1h-6zM170 145h6v1h-6zM179 145h1v1h-1zM185 145h1v1h-1zM190 145h6v1h-6zM197 145h5v1h-5zM206 145h1v1h-1zM208 145h5v1h-5zM214 145h5v1h-5zM224 145h5v1h-5zM241 145h1v1h-1zM248 145h1v1h-1zM254 145h6v1h-6zM263 145h6v1h-6zM275 145h6v1h-6zM285 145h5v1h-5zM294 145h6v1h-6zM305 145h5v1h-5zM314 145h1v1h-1zM316 145h3v1h-3zM353 145h1v1h-1zM360 145h1v1h-1zM363 145h1v1h-1zM377 145h3v1h-3zM385 145h3v1h-3zM389 145h3v1h-3zM409 145h1v1h-1zM411 145h5v1h-5zM417 145h5v1h-5zM426 145h6v1h-6zM434 145h5v1h-5zM118 146h8v1h-8zM130 146h1v1h-1zM135 146h1v1h-1zM139 146h2v1h-2zM145 146h1v1h-1zM150 146h1v1h-1zM155 146h1v1h-1zM160 146h2v1h-2zM166 146h1v1h-1zM170 146h1v1h-1zM176 146h1v1h-1zM179 146h1v1h-1zM185 146h1v1h-1zM190 146h2v1h-2zM196 146h2v1h-2zM202 146h1v1h-1zM206 146h2v1h-2zM212 146h2v1h-2zM218 146h1v1h-1zM223 146h1v1h-1zM228 146h1v1h-1zM241 146h8v1h-8zM253 146h1v1h-1zM259 146h1v1h-1zM263 146h1v1h-1zM269 146h1v1h-1zM273 146h2v1h-2zM280 146h1v1h-1zM284 146h1v1h-1zM290 146h1v1h-1zM294 146h2v1h-2zM300 146h1v1h-1zM304 146h1v1h-1zM310 146h1v1h-1zM314 146h2v1h-2zM352 146h1v1h-1zM359 146h1v1h-1zM363 146h1v1h-1zM380 146h1v1h-1zM386 146h5v1h-5zM409 146h2v1h-2zM415 146h2v1h-2zM421 146h1v1h-1zM426 146h2v1h-2zM432 146h2v1h-2zM438 146h1v1h-1zM118 147h1v1h-1zM123 147h1v1h-1zM129 147h1v1h-1zM136 147h1v1h-1zM139 147h1v1h-1zM145 147h1v1h-1zM149 147h1v1h-1zM156 147h1v1h-1zM160 147h1v1h-1zM166 147h1v1h-1zM170 147h1v1h-1zM179 147h1v1h-1zM185 147h1v1h-1zM190 147h1v1h-1zM196 147h1v1h-1zM202 147h1v1h-1zM206 147h1v1h-1zM212 147h1v1h-1zM218 147h1v1h-1zM222 147h1v1h-1zM229 147h1v1h-1zM241 147h1v1h-1zM246 147h1v1h-1zM252 147h1v1h-1zM259 147h1v1h-1zM263 147h1v1h-1zM270 147h1v1h-1zM273 147h1v1h-1zM280 147h1v1h-1zM283 147h1v1h-1zM294 147h1v1h-1zM300 147h1v1h-1zM304 147h1v1h-1zM310 147h1v1h-1zM314 147h2v1h-2zM351 147h1v1h-1zM358 147h1v1h-1zM363 147h1v1h-1zM381 147h1v1h-1zM385 147h1v1h-1zM391 147h2v1h-2zM409 147h1v1h-1zM415 147h1v1h-1zM421 147h1v1h-1zM426 147h1v1h-1zM432 147h1v1h-1zM438 147h1v1h-1zM118 148h1v1h-1zM123 148h1v1h-1zM129 148h8v1h-8zM139 148h1v1h-1zM145 148h1v1h-1zM149 148h8v1h-8zM160 148h1v1h-1zM166 148h1v1h-1zM171 148h4v1h-4zM179 148h1v1h-1zM185 148h1v1h-1zM190 148h1v1h-1zM196 148h1v1h-1zM202 148h1v1h-1zM206 148h1v1h-1zM212 148h1v1h-1zM218 148h1v1h-1zM222 148h8v1h-8zM241 148h1v1h-1zM246 148h1v1h-1zM252 148h1v1h-1zM259 148h1v1h-1zM263 148h1v1h-1zM270 148h1v1h-1zM273 148h1v1h-1zM280 148h1v1h-1zM283 148h1v1h-1zM294 148h1v1h-1zM300 148h1v1h-1zM304 148h7v1h-7zM314 148h1v1h-1zM350 148h1v1h-1zM357 148h10v1h-10zM381 148h1v1h-1zM384 148h1v1h-1zM392 148h1v1h-1zM409 148h1v1h-1zM415 148h1v1h-1zM421 148h1v1h-1zM426 148h1v1h-1zM432 148h1v1h-1zM438 148h1v1h-1zM118 149h1v1h-1zM124 149h1v1h-1zM129 149h1v1h-1zM139 149h1v1h-1zM145 149h1v1h-1zM149 149h1v1h-1zM160 149h1v1h-1zM166 149h1v1h-1zM175 149h1v1h-1zM179 149h1v1h-1zM185 149h1v1h-1zM190 149h1v1h-1zM196 149h1v1h-1zM202 149h1v1h-1zM206 149h1v1h-1zM212 149h1v1h-1zM218 149h1v1h-1zM222 149h1v1h-1zM241 149h1v1h-1zM247 149h1v1h-1zM252 149h1v1h-1zM259 149h1v1h-1zM263 149h1v1h-1zM270 149h1v1h-1zM273 149h1v1h-1zM280 149h1v1h-1zM283 149h1v1h-1zM294 149h1v1h-1zM300 149h1v1h-1zM304 149h1v1h-1zM314 149h1v1h-1zM349 149h1v1h-1zM363 149h1v1h-1zM381 149h1v1h-1zM384 149h1v1h-1zM392 149h1v1h-1zM409 149h1v1h-1zM415 149h1v1h-1zM421 149h1v1h-1zM426 149h1v1h-1zM432 149h1v1h-1zM438 149h1v1h-1zM118 150h1v1h-1zM125 150h1v1h-1zM130 150h1v1h-1zM139 150h1v1h-1zM145 150h1v1h-1zM150 150h1v1h-1zM160 150h1v1h-1zM166 150h1v1h-1zM176 150h1v1h-1zM179 150h1v1h-1zM185 150h1v1h-1zM190 150h1v1h-1zM196 150h1v1h-1zM202 150h1v1h-1zM206 150h1v1h-1zM212 150h1v1h-1zM218 150h1v1h-1zM223 150h1v1h-1zM241 150h1v1h-1zM248 150h1v1h-1zM253 150h1v1h-1zM259 150h1v1h-1zM263 150h1v1h-1zM269 150h1v1h-1zM273 150h1v1h-1zM280 150h1v1h-1zM284 150h1v1h-1zM294 150h1v1h-1zM300 150h1v1h-1zM304 150h1v1h-1zM314 150h1v1h-1zM348 150h1v1h-1zM363 150h1v1h-1zM373 150h1v1h-1zM380 150h1v1h-1zM384 150h1v1h-1zM392 150h1v1h-1zM409 150h1v1h-1zM415 150h1v1h-1zM421 150h1v1h-1zM426 150h1v1h-1zM432 150h1v1h-1zM438 150h1v1h-1zM118 151h1v1h-1zM125 151h1v1h-1zM130 151h1v1h-1zM136 151h1v1h-1zM139 151h1v1h-1zM145 151h1v1h-1zM150 151h1v1h-1zM156 151h1v1h-1zM160 151h1v1h-1zM166 151h1v1h-1zM170 151h1v1h-1zM176 151h1v1h-1zM180 151h1v1h-1zM185 151h1v1h-1zM190 151h1v1h-1zM196 151h1v1h-1zM202 151h1v1h-1zM206 151h1v1h-1zM212 151h1v1h-1zM218 151h1v1h-1zM223 151h1v1h-1zM229 151h1v1h-1zM241 151h1v1h-1zM248 151h1v1h-1zM253 151h1v1h-1zM259 151h1v1h-1zM263 151h1v1h-1zM269 151h1v1h-1zM273 151h1v1h-1zM279 151h2v1h-2zM284 151h1v1h-1zM290 151h1v1h-1zM294 151h1v1h-1zM300 151h1v1h-1zM304 151h1v1h-1zM310 151h1v1h-1zM314 151h1v1h-1zM347 151h1v1h-1zM363 151h1v1h-1zM369 151h1v1h-1zM373 151h1v1h-1zM380 151h1v1h-1zM385 151h1v1h-1zM392 151h1v1h-1zM409 151h1v1h-1zM415 151h1v1h-1zM421 151h1v1h-1zM426 151h1v1h-1zM432 151h1v1h-1zM438 151h1v1h-1zM118 152h1v1h-1zM126 152h1v1h-1zM131 152h5v1h-5zM140 152h6v1h-6zM151 152h5v1h-5zM160 152h1v1h-1zM166 152h1v1h-1zM170 152h6v1h-6zM180 152h6v1h-6zM190 152h1v1h-1zM196 152h1v1h-1zM202 152h1v1h-1zM206 152h1v1h-1zM212 152h1v1h-1zM218 152h1v1h-1zM224 152h5v1h-5zM241 152h1v1h-1zM249 152h1v1h-1zM254 152h6v1h-6zM263 152h6v1h-6zM274 152h5v1h-5zM280 152h1v1h-1zM285 152h5v1h-5zM294 152h1v1h-1zM300 152h1v1h-1zM305 152h5v1h-5zM314 152h1v1h-1zM346 152h9v1h-9zM363 152h1v1h-1zM368 152h3v1h-3zM374 152h6v1h-6zM385 152h7v1h-7zM409 152h1v1h-1zM415 152h1v1h-1zM421 152h1v1h-1zM426 152h1v1h-1zM432 152h1v1h-1zM438 152h1v1h-1zM145 153h1v1h-1zM145 154h1v1h-1zM145 155h1v1h-1zM141 156h1v1h-1zM144 156h2v1h-2zM142 157h2v1h-2zM468 231h4v1h-4zM465 232h3v1h-3zM458 233h7v1h-7zM452 234h6v1h-6zM450 235h2v1h-2zM448 236h2v1h-2zM444 237h4v1h-4zM441 238h3v1h-3zM440 239h1v1h-1zM440 240h1v1h-1zM439 241h1v1h-1zM439 242h1v1h-1zM438 243h1v1h-1zM438 244h1v1h-1zM437 245h1v1h-1zM437 246h1v1h-1zM436 247h1v1h-1zM434 248h2v1h-2zM433 249h1v1h-1zM433 250h1v1h-1zM431 251h2v1h-2zM429 252h2v1h-2zM428 253h1v1h-1zM419 254h9v1h-9zM391 255h28v1h-28zM390 256h1v1h-1zM389 257h1v1h-1zM389 258h1v1h-1zM389 259h1v1h-1zM389 260h1v1h-1zM388 261h1v1h-1zM387 262h1v1h-1zM387 263h1v1h-1zM386 264h1v1h-1zM385 265h1v1h-1zM385 266h1v1h-1zM384 267h1v1h-1zM383 268h1v1h-1zM382 269h1v1h-1zM382 270h1v1h-1zM381 271h1v1h-1zM381 272h1v1h-1zM381 273h1v1h-1zM380 274h1v1h-1zM380 275h1v1h-1zM379 276h1v1h-1zM379 277h1v1h-1zM378 278h1v1h-1zM377 279h1v1h-1zM377 280h1v1h-1zM376 281h1v1h-1zM376 282h1v1h-1zM376 283h1v1h-1zM376 284h1v1h-1zM376 285h1v1h-1zM375 286h1v1h-1zM374 287h1v1h-1zM374 288h1v1h-1zM374 289h1v1h-1zM373 290h1v1h-1zM373 291h1v1h-1zM372 292h1v1h-1zM364 293h8v1h-8zM363 294h1v1h-1zM363 295h1v1h-1zM362 296h1v1h-1zM361 297h1v1h-1zM361 298h1v1h-1zM360 299h1v1h-1zM360 300h1v1h-1zM359 301h1v1h-1zM358 302h1v1h-1zM357 303h1v1h-1zM357 304h1v1h-1zM357 305h1v1h-1zM356 306h1v1h-1zM355 307h1v1h-1zM354 308h1v1h-1zM353 309h1v1h-1zM353 310h1v1h-1zM353 311h1v1h-1zM352 312h1v1h-1zM352 313h1v1h-1zM352 314h1v1h-1zM352 315h1v1h-1zM352 316h1v1h-1zM347 317h5v1h-5zM346 318h1v1h-1zM345 319h1v1h-1zM345 320h1v1h-1zM344 321h1v1h-1zM344 322h1v1h-1zM339 323h5v1h-5zM337 324h2v1h-2zM336 325h1v1h-1zM332 326h4v1h-4zM323 327h9v1h-9zM322 328h1v1h-1zM322 329h1v1h-1zM321 330h1v1h-1zM321 331h1v1h-1zM321 332h1v1h-1zM307 333h14v1h-14zM306 334h1v1h-1zM305 335h1v1h-1zM305 336h1v1h-1zM305 337h1v1h-1zM305 338h1v1h-1zM305 339h1v1h-1zM304 340h1v1h-1zM304 341h1v1h-1zM304 342h1v1h-1zM304 343h1v1h-1zM304 344h1v1h-1zM304 345h1v1h-1zM304 346h1v1h-1zM303 347h1v1h-1zM303 348h1v1h-1zM303 349h1v1h-1zM303 350h1v1h-1zM303 351h1v1h-1zM303 352h1v1h-1zM303 353h1v1h-1zM303 354h1v1h-1zM303 355h1v1h-1zM303 356h1v1h-1zM303 357h1v1h-1zM303 358h1v1h-1zM303 359h1v1h-1zM303 360h1v1h-1zM303 361h1v1h-1zM303 362h1v1h-1zM303 363h1v1h-1zM303 364h1v1h-1zM303 365h1v1h-1zM303 366h1v1h-1zM303 367h1v1h-1zM303 368h1v1h-1zM302 369h1v1h-1zM302 370h1v1h-1zM302 371h1v1h-1zM302 372h1v1h-1zM302 373h1v1h-1zM301 374h2v1h-2zM300 375h1v1h-1zM300 376h1v1h-1zM299 377h1v1h-1zM299 378h1v1h-1zM299 379h1v1h-1zM299 380h1v1h-1zM298 381h1v1h-1zM298 382h1v1h-1zM298 383h1v1h-1zM298 384h1v1h-1zM298 385h1v1h-1zM298 386h1v1h-1zM298 387h1v1h-1zM298 388h1v1h-1zM298 389h1v1h-1zM298 390h1v1h-1zM298 391h1v1h-1zM298 392h1v1h-1zM298 393h1v1h-1zM298 394h1v1h-1zM298 395h1v1h-1zM298 396h1v1h-1zM297 397h1v1h-1zM297 398h1v1h-1zM297 399h1v1h-1zM297 400h1v1h-1zM297 401h1v1h-1zM297 402h1v1h-1zM297 403h1v1h-1zM297 404h1v1h-1zM297 405h1v1h-1zM297 406h1v1h-1zM296 407h1v1h-1zM296 408h1v1h-1zM296 409h1v1h-1zM295 410h1v1h-1zM264 411h32v1h-32zM263 412h1v1h-1zM237 413h26v1h-26zM236 414h1v1h-1zM235 415h1v1h-1zM235 416h1v1h-1zM234 417h1v1h-1zM234 418h1v1h-1zM233 419h1v1h-1zM233 420h1v1h-1zM216 421h17v1h-17zM197 422h19v1h-19zM196 423h1v1h-1zM195 424h1v1h-1zM194 425h1v1h-1zM194 426h1v1h-1zM194 427h1v1h-1zM193 428h1v1h-1zM193 429h1v1h-1zM192 430h1v1h-1zM192 431h1v1h-1zM192 432h1v1h-1zM192 433h1v1h-1zM192 434h1v1h-1zM192 435h1v1h-1zM192 436h1v1h-1zM191 437h1v1h-1zM100 438h91v1h-91z"/>
<path fill="#888888" d="M169 102h1v1h-1zM237 102h1v1h-1zM306 102h1v1h-1zM375 102h1v1h-1zM444 102h1v1h-1zM512 102h1v1h-1zM581 102h1v1h-1zM169 106h1v1h-1zM237 106h1v1h-1zM306 106h1v1h-1zM375 106h1v1h-1zM444 106h1v1h-1zM512 106h1v1h-1zM581 106h1v1h-1zM102 141h1v1h-1zM106 141h1v1h-1zM646 141h1v1h-1zM650 141h1v1h-1zM101 183h1v1h-1zM105 183h1v1h-1zM109 183h1v1h-1zM641 183h1v1h-1zM645 183h1v1h-1zM649 183h1v1h-1zM100 226h1v1h-1zM104 226h1v1h-1zM648 226h1v1h-1zM103 268h1v1h-1zM107 268h1v1h-1zM111 268h1v1h-1zM639 268h1v1h-1zM643 268h1v1h-1zM647 268h1v1h-1zM650 311h1v1h-1zM101 353h1v1h-1zM105 353h1v1h-1zM109 353h1v1h-1zM641 353h1v1h-1zM645 353h1v1h-1zM649 353h1v1h-1zM100 396h1v1h-1zM169 430h1v1h-1zM237 430h1v1h-1zM306 430h1v1h-1zM375 430h1v1h-1zM444 430h1v1h-1zM512 430h1v1h-1zM581 430h1v1h-1zM169 434h1v1h-1zM237 434h1v1h-1zM306 434h1v1h-1zM375 434h1v1h-1zM444 434h1v1h-1zM512 434h1v1h-1zM581 434h1v1h-1zM237 438h1v1h-1zM306 438h1v1h-1zM375 438h1v1h-1zM444 438h1v1h-1zM512 438h1v1h-1zM581 438h1v1h-1z"/>
<path fill="#777777" d="M169 110h1v1h-1zM237 110h1v1h-1zM306 110h1v1h-1zM375 110h1v1h-1zM444 110h1v1h-1zM512 110h1v1h-1zM581 110h1v1h-1zM169 114h1v1h-1zM237 114h1v1h-1zM306 114h1v1h-1zM375 114h1v1h-1zM581 114h1v1h-1zM169 118h1v1h-1zM237 118h1v1h-1zM375 118h1v1h-1zM444 118h1v1h-1zM581 118h1v1h-1zM169 122h1v1h-1zM237 122h1v1h-1zM306 122h1v1h-1zM375 122h1v1h-1zM444 122h1v1h-1zM581 122h1v1h-1zM169 126h1v1h-1zM237 126h1v1h-1zM306 126h1v1h-1zM375 126h1v1h-1zM444 126h1v1h-1zM512 126h1v1h-1zM581 126h1v1h-1zM169 130h1v1h-1zM237 130h1v1h-1zM306 130h1v1h-1zM375 130h1v1h-1zM444 130h1v1h-1zM512 130h1v1h-1zM581 130h1v1h-1zM169 134h1v1h-1zM237 134h1v1h-1zM306 134h1v1h-1zM375 134h1v1h-1zM444 134h1v1h-1zM512 134h1v1h-1zM581 134h1v1h-1zM169 138h1v1h-1zM237 138h1v1h-1zM306 138h1v1h-1zM375 138h1v1h-1zM444 138h1v1h-1zM512 138h1v1h-1zM581 138h1v1h-1zM110 141h1v1h-1zM114 141h1v1h-1zM126 141h1v1h-1zM130 141h1v1h-1zM134 141h1v1h-1zM138 141h1v1h-1zM142 141h1v1h-1zM146 141h1v1h-1zM150 141h1v1h-1zM154 141h1v1h-1zM158 141h1v1h-1zM162 141h1v1h-1zM166 141h1v1h-1zM170 141h1v1h-1zM174 141h1v1h-1zM178 141h1v1h-1zM182 141h1v1h-1zM186 141h1v1h-1zM190 141h1v1h-1zM194 141h1v1h-1zM198 141h1v1h-1zM202 141h1v1h-1zM206 141h1v1h-1zM210 141h1v1h-1zM214 141h1v1h-1zM218 141h1v1h-1zM222 141h1v1h-1zM226 141h1v1h-1zM230 141h1v1h-1zM234 141h1v1h-1zM238 141h1v1h-1zM250 141h1v1h-1zM254 141h1v1h-1zM258 141h1v1h-1zM262 141h1v1h-1zM266 141h1v1h-1zM270 141h1v1h-1zM274 141h1v1h-1zM278 141h1v1h-1zM282 141h1v1h-1zM286 141h1v1h-1zM290 141h1v1h-1zM298 141h1v1h-1zM302 141h1v1h-1zM306 141h1v1h-1zM310 141h1v1h-1zM314 141h1v1h-1zM318 141h1v1h-1zM322 141h1v1h-1zM326 141h1v1h-1zM330 141h1v1h-1zM334 141h1v1h-1zM338 141h1v1h-1zM342 141h1v1h-1zM346 141h1v1h-1zM354 141h1v1h-1zM358 141h1v1h-1zM362 141h1v1h-1zM366 141h1v1h-1zM370 141h1v1h-1zM382 141h1v1h-1zM394 141h1v1h-1zM398 141h1v1h-1zM402 141h1v1h-1zM406 141h1v1h-1zM410 141h1v1h-1zM414 141h1v1h-1zM418 141h1v1h-1zM422 141h1v1h-1zM426 141h1v1h-1zM430 141h1v1h-1zM434 141h1v1h-1zM438 141h1v1h-1zM442 141h1v1h-1zM446 141h1v1h-1zM450 141h1v1h-1zM454 141h1v1h-1zM458 141h1v1h-1zM462 141h1v1h-1zM466 141h1v1h-1zM470 141h1v1h-1zM474 141h1v1h-1zM478 141h1v1h-1zM482 141h1v1h-1zM486 141h1v1h-1zM490 141h1v1h-1zM494 141h1v1h-1zM498 141h1v1h-1zM502 141h1v1h-1zM506 141h1v1h-1zM510 141h1v1h-1zM514 141h1v1h-1zM518 141h1v1h-1zM522 141h1v1h-1zM526 141h1v1h-1zM530 141h1v1h-1zM534 141h1v1h-1zM538 141h1v1h-1zM542 141h1v1h-1zM546 141h1v1h-1zM550 141h1v1h-1zM554 141h1v1h-1zM558 141h1v1h-1zM562 141h1v1h-1zM566 141h1v1h-1zM570 141h1v1h-1zM574 141h1v1h-1zM578 141h1v1h-1zM582 141h1v1h-1zM586 141h1v1h-1zM590 141h1v1h-1zM594 141h1v1h-1zM598 141h1v1h-1zM602 141h1v1h-1zM606 141h1v1h-1zM610 141h1v1h-1zM614 141h1v1h-1zM618 141h1v1h-1zM622 141h1v1h-1zM626 141h1v1h-1zM630 141h1v1h-1zM634 141h1v1h-1zM638 141h1v1h-1zM642 141h1v1h-1zM169 142h1v1h-1zM237 142h1v1h-1zM306 142h1v1h-1zM375 142h1v1h-1zM444 142h1v1h-1zM512 142h1v1h-1zM581 142h1v1h-1zM169 146h1v1h-1zM237 146h1v1h-1zM306 146h1v1h-1zM375 146h1v1h-1zM444 146h1v1h-1zM512 146h1v1h-1zM581 146h1v1h-1zM169 150h1v1h-1zM237 150h1v1h-1zM306 150h1v1h-1zM375 150h1v1h-1zM444 150h1v1h-1zM512 150h1v1h-1zM581 150h1v1h-1zM169 154h1v1h-1zM237 154h1v1h-1zM306 154h1v1h-1zM375 154h1v1h-1zM444 154h1v1h-1zM512 154h1v1h-1zM581 154h1v1h-1zM169 158h1v1h-1zM237 158h1v1h-1zM306 158h1v1h-1zM375 158h1v1h-1zM444 158h1v1h-1zM512 158h1v1h-1zM581 158h1v1h-1zM169 162h1v1h-1zM237 162h1v1h-1zM306 162h1v1h-1zM375 162h1v1h-1zM444 162h1v1h-1zM512 162h1v1h-1zM581 162h1v1h-1zM169 166h1v1h-1zM237 166h1v1h-1zM375 166h1v1h-1zM444 166h1v1h-1zM512 166h1v1h-1zM581 166h1v1h-1zM169 170h1v1h-1zM237 170h1v1h-1zM306 170h1v1h-1zM375 170h1v1h-1zM444 170h1v1h-1zM512 170h1v1h-1zM581 170h1v1h-1zM169 174h1v1h-1zM237 174h1v1h-1zM306 174h1v1h-1zM375 174h1v1h-1zM444 174h1v1h-1zM512 174h1v1h-1zM581 174h1v1h-1zM169 178h1v1h-1zM237 178h1v1h-1zM306 178h1v1h-1zM375 178h1v1h-1zM444 178h1v1h-1zM512 178h1v1h-1zM581 178h1v1h-1zM169 182h1v1h-1zM237 182h1v1h-1zM306 182h1v1h-1zM375 182h1v1h-1zM444 182h1v1h-1zM512 182h1v1h-1zM581 182h1v1h-1zM113 183h1v1h-1zM117 183h1v1h-1zM121 183h1v1h-1zM129 183h1v1h-1zM133 183h1v1h-1zM137 183h1v1h-1zM141 183h1v1h-1zM145 183h1v1h-1zM149 183h1v1h-1zM153 183h1v1h-1zM157 183h1v1h-1zM161 183h1v1h-1zM165 183h1v1h-1zM169 183h1v1h-1zM173 183h1v1h-1zM181 183h1v1h-1zM185 183h1v1h-1zM189 183h1v1h-1zM193 183h1v1h-1zM197 183h1v1h-1zM201 183h1v1h-1zM205 183h1v1h-1zM209 183h1v1h-1zM213 183h1v1h-1zM217 183h1v1h-1zM221 183h1v1h-1zM225 183h1v1h-1zM229 183h1v1h-1zM233 183h1v1h-1zM237 183h1v1h-1zM241 183h1v1h-1zM249 183h1v1h-1zM253 183h1v1h-1zM257 183h1v1h-1zM261 183h1v1h-1zM265 183h1v1h-1zM269 183h1v1h-1zM273 183h1v1h-1zM277 183h1v1h-1zM281 183h1v1h-1zM285 183h1v1h-1zM289 183h1v1h-1zM293 183h1v1h-1zM297 183h1v1h-1zM301 183h1v1h-1zM305 183h1v1h-1zM309 183h1v1h-1zM313 183h1v1h-1zM317 183h1v1h-1zM321 183h1v1h-1zM325 183h1v1h-1zM329 183h1v1h-1zM333 183h1v1h-1zM337 183h1v1h-1zM341 183h1v1h-1zM345 183h1v1h-1zM349 183h1v1h-1zM353 183h1v1h-1zM357 183h1v1h-1zM361 183h1v1h-1zM365 183h1v1h-1zM369 183h1v1h-1zM373 183h1v1h-1zM377 183h1v1h-1zM381 183h1v1h-1zM385 183h1v1h-1zM393 183h1v1h-1zM397 183h1v1h-1zM401 183h1v1h-1zM405 183h1v1h-1zM409 183h1v1h-1zM413 183h1v1h-1zM417 183h1v1h-1zM421 183h1v1h-1zM425 183h1v1h-1zM429 183h1v1h-1zM433 183h1v1h-1zM437 183h1v1h-1zM441 183h1v1h-1zM445 183h1v1h-1zM449 183h1v1h-1zM453 183h1v1h-1zM457 183h1v1h-1zM461 183h1v1h-1zM465 183h1v1h-1zM469 183h1v1h-1zM473 183h1v1h-1zM477 183h1v1h-1zM481 183h1v1h-1zM485 183h1v1h-1zM489 183h1v1h-1zM493 183h1v1h-1zM497 183h1v1h-1zM501 183h1v1h-1zM505 183h1v1h-1zM509 183h1v1h-1zM513 183h1v1h-1zM517 183h1v1h-1zM521 183h1v1h-1zM525 183h1v1h-1zM529 183h1v1h-1zM533 183h1v1h-1zM537 183h1v1h-1zM541 183h1v1h-1zM545 183h1v1h-1zM549 183h1v1h-1zM553 183h1v1h-1zM557 183h1v1h-1zM561 183h1v1h-1zM565 183h1v1h-1zM569 183h1v1h-1zM573 183h1v1h-1zM577 183h1v1h-1zM581 183h1v1h-1zM585 183h1v1h-1zM589 183h1v1h-1zM593 183h1v1h-1zM597 183h1v1h-1zM601 183h1v1h-1zM605 183h1v1h-1zM609 183h1v1h-1zM613 183h1v1h-1zM617 183h1v1h-1zM621 183h1v1h-1zM625 183h1v1h-1zM629 183h1v1h-1zM633 183h1v1h-1zM637 183h1v1h-1zM169 186h1v1h-1zM306 186h1v1h-1zM375 186h1v1h-1zM444 186h1v1h-1zM512 186h1v1h-1zM581 186h1v1h-1zM169 190h1v1h-1zM237 190h1v1h-1zM306 190h1v1h-1zM375 190h1v1h-1zM444 190h1v1h-1zM512 190h1v1h-1zM581 190h1v1h-1zM169 194h1v1h-1zM237 194h1v1h-1zM306 194h1v1h-1zM375 194h1v1h-1zM444 194h1v1h-1zM512 194h1v1h-1zM581 194h1v1h-1zM169 198h1v1h-1zM237 198h1v1h-1zM306 198h1v1h-1zM375 198h1v1h-1zM444 198h1v1h-1zM512 198h1v1h-1zM581 198h1v1h-1zM169 202h1v1h-1zM237 202h1v1h-1zM306 202h1v1h-1zM444 202h1v1h-1zM512 202h1v1h-1zM581 202h1v1h-1zM169 206h1v1h-1zM306 206h1v1h-1zM375 206h1v1h-1zM444 206h1v1h-1zM512 206h1v1h-1zM581 206h1v1h-1zM169 210h1v1h-1zM237 210h1v1h-1zM306 210h1v1h-1zM375 210h1v1h-1zM444 210h1v1h-1zM512 210h1v1h-1zM581 210h1v1h-1zM169 214h1v1h-1zM306 214h1v1h-1zM444 214h1v1h-1zM512 214h1v1h-1zM581 214h1v1h-1zM169 218h1v1h-1zM237 218h1v1h-1zM306 218h1v1h-1zM375 218h1v1h-1zM444 218h1v1h-1zM512 218h1v1h-1zM581 218h1v1h-1zM169 222h1v1h-1zM237 222h1v1h-1zM306 222h1v1h-1zM375 222h1v1h-1zM444 222h1v1h-1zM512 222h1v1h-1zM581 222h1v1h-1zM108 226h1v1h-1zM112 226h1v1h-1zM116 226h1v1h-1zM120 226h1v1h-1zM124 226h1v1h-1zM128 226h1v1h-1zM132 226h1v1h-1zM136 226h1v1h-1zM140 226h1v1h-1zM144 226h1v1h-1zM148 226h1v1h-1zM152 226h1v1h-1zM156 226h1v1h-1zM160 226h1v1h-1zM164 226h1v1h-1zM168 226h2v1h-2zM172 226h1v1h-1zM176 226h1v1h-1zM180 226h1v1h-1zM184 226h1v1h-1zM188 226h1v1h-1zM192 226h1v1h-1zM196 226h1v1h-1zM200 226h1v1h-1zM204 226h1v1h-1zM208 226h1v1h-1zM212 226h1v1h-1zM216 226h1v1h-1zM220 226h1v1h-1zM224 226h1v1h-1zM228 226h1v1h-1zM232 226h1v1h-1zM236 226h2v1h-2zM240 226h1v1h-1zM244 226h1v1h-1zM248 226h1v1h-1zM252 226h1v1h-1zM256 226h1v1h-1zM260 226h1v1h-1zM264 226h1v1h-1zM268 226h1v1h-1zM272 226h1v1h-1zM276 226h1v1h-1zM280 226h1v1h-1zM284 226h1v1h-1zM288 226h1v1h-1zM292 226h1v1h-1zM296 226h1v1h-1zM300 226h1v1h-1zM304 226h1v1h-1zM306 226h1v1h-1zM308 226h1v1h-1zM312 226h1v1h-1zM316 226h1v1h-1zM320 226h1v1h-1zM324 226h1v1h-1zM328 226h1v1h-1zM332 226h1v1h-1zM336 226h1v1h-1zM340 226h1v1h-1zM344 226h1v1h-1zM348 226h1v1h-1zM352 226h1v1h-1zM356 226h1v1h-1zM360 226h1v1h-1zM364 226h1v1h-1zM368 226h1v1h-1zM372 226h1v1h-1zM375 226h2v1h-2zM380 226h1v1h-1zM384 226h1v1h-1zM388 226h1v1h-1zM392 226h1v1h-1zM396 226h1v1h-1zM400 226h1v1h-1zM404 226h1v1h-1zM408 226h1v1h-1zM412 226h1v1h-1zM416 226h1v1h-1zM420 226h1v1h-1zM424 226h1v1h-1zM428 226h1v1h-1zM432 226h1v1h-1zM436 226h1v1h-1zM440 226h1v1h-1zM448 226h1v1h-1zM452 226h1v1h-1zM456 226h1v1h-1zM460 226h1v1h-1zM464 226h1v1h-1zM468 226h1v1h-1zM472 226h1v1h-1zM476 226h1v1h-1zM480 226h1v1h-1zM484 226h1v1h-1zM488 226h1v1h-1zM492 226h1v1h-1zM496 226h1v1h-1zM500 226h1v1h-1zM504 226h1v1h-1zM508 226h1v1h-1zM516 226h1v1h-1zM520 226h1v1h-1zM524 226h1v1h-1zM528 226h1v1h-1zM532 226h1v1h-1zM536 226h1v1h-1zM540 226h1v1h-1zM544 226h1v1h-1zM548 226h1v1h-1zM552 226h1v1h-1zM556 226h1v1h-1zM560 226h1v1h-1zM564 226h1v1h-1zM568 226h1v1h-1zM572 226h1v1h-1zM576 226h1v1h-1zM580 226h2v1h-2zM584 226h1v1h-1zM588 226h1v1h-1zM592 226h1v1h-1zM596 226h1v1h-1zM600 226h1v1h-1zM604 226h1v1h-1zM608 226h1v1h-1zM612 226h1v1h-1zM616 226h1v1h-1zM620 226h1v1h-1zM624 226h1v1h-1zM628 226h1v1h-1zM632 226h1v1h-1zM636 226h1v1h-1zM640 226h1v1h-1zM644 226h1v1h-1zM169 230h1v1h-1zM237 230h1v1h-1zM306 230h1v1h-1zM375 230h1v1h-1zM444 230h1v1h-1zM512 230h1v1h-1zM581 230h1v1h-1zM169 234h1v1h-1zM237 234h1v1h-1zM306 234h1v1h-1zM375 234h1v1h-1zM444 234h1v1h-1zM512 234h1v1h-1zM581 234h1v1h-1zM169 238h1v1h-1zM237 238h1v1h-1zM306 238h1v1h-1zM375 238h1v1h-1zM444 238h1v1h-1zM512 238h1v1h-1zM581 238h1v1h-1zM169 242h1v1h-1zM237 242h1v1h-1zM306 242h1v1h-1zM375 242h1v1h-1zM444 242h1v1h-1zM512 242h1v1h-1zM581 242h1v1h-1zM169 246h1v1h-1zM237 246h1v1h-1zM306 246h1v1h-1zM375 246h1v1h-1zM444 246h1v1h-1zM512 246h1v1h-1zM581 246h1v1h-1zM169 250h1v1h-1zM237 250h1v1h-1zM306 250h1v1h-1zM375 250h1v1h-1zM444 250h1v1h-1zM512 250h1v1h-1zM581 250h1v1h-1zM169 254h1v1h-1zM237 254h1v1h-1zM306 254h1v1h-1zM375 254h1v1h-1zM444 254h1v1h-1zM512 254h1v1h-1zM581 254h1v1h-1zM169 258h1v1h-1zM237 258h1v1h-1zM306 258h1v1h-1zM375 258h1v1h-1zM444 258h1v1h-1zM512 258h1v1h-1zM581 258h1v1h-1zM169 262h1v1h-1zM237 262h1v1h-1zM306 262h1v1h-1zM375 262h1v1h-1zM444 262h1v1h-1zM512 262h1v1h-1zM581 262h1v1h-1zM169 266h1v1h-1zM237 266h1v1h-1zM306 266h1v1h-1zM375 266h1v1h-1zM444 266h1v1h-1zM512 266h1v1h-1zM581 266h1v1h-1zM115 268h1v1h-1zM119 268h1v1h-1zM123 268h1v1h-1zM127 268h1v1h-1zM131 268h1v1h-1zM135 268h1v1h-1zM139 268h1v1h-1zM143 268h1v1h-1zM147 268h1v1h-1zM151 268h1v1h-1zM155 268h1v1h-1zM159 268h1v1h-1zM163 268h1v1h-1zM167 268h1v1h-1zM171 268h1v1h-1zM175 268h1v1h-1zM179 268h1v1h-1zM183 268h1v1h-1zM187 268h1v1h-1zM191 268h1v1h-1zM195 268h1v1h-1zM199 268h1v1h-1zM203 268h1v1h-1zM207 268h1v1h-1zM211 268h1v1h-1zM215 268h1v1h-1zM219 268h1v1h-1zM223 268h1v1h-1zM227 268h1v1h-1zM231 268h1v1h-1zM235 268h1v1h-1zM239 268h1v1h-1zM243 268h1v1h-1zM247 268h1v1h-1zM251 268h1v1h-1zM255 268h1v1h-1zM259 268h1v1h-1zM263 268h1v1h-1zM267 268h1v1h-1zM271 268h1v1h-1zM275 268h1v1h-1zM279 268h1v1h-1zM283 268h1v1h-1zM287 268h1v1h-1zM291 268h1v1h-1zM295 268h1v1h-1zM299 268h1v1h-1zM303 268h1v1h-1zM307 268h1v1h-1zM311 268h1v1h-1zM315 268h1v1h-1zM319 268h1v1h-1zM323 268h1v1h-1zM327 268h1v1h-1zM331 268h1v1h-1zM335 268h1v1h-1zM339 268h1v1h-1zM343 268h1v1h-1zM347 268h1v1h-1zM351 268h1v1h-1zM355 268h1v1h-1zM359 268h1v1h-1zM363 268h1v1h-1zM367 268h1v1h-1zM371 268h1v1h-1zM375 268h1v1h-1zM379 268h1v1h-1zM387 268h1v1h-1zM391 268h1v1h-1zM395 268h1v1h-1zM399 268h1v1h-1zM403 268h1v1h-1zM407 268h1v1h-1zM411 268h1v1h-1zM415 268h1v1h-1zM419 268h1v1h-1zM423 268h1v1h-1zM427 268h1v1h-1zM431 268h1v1h-1zM435 268h1v1h-1zM439 268h1v1h-1zM443 268h1v1h-1zM447 268h1v1h-1zM451 268h1v1h-1zM455 268h1v1h-1zM459 268h1v1h-1zM463 268h1v1h-1zM467 268h1v1h-1zM471 268h1v1h-1zM475 268h1v1h-1zM479 268h1v1h-1zM483 268h1v1h-1zM487 268h1v1h-1zM491 268h1v1h-1zM495 268h1v1h-1zM499 268h1v1h-1zM503 268h1v1h-1zM507 268h1v1h-1zM511 268h1v1h-1zM515 268h1v1h-1zM519 268h1v1h-1zM523 268h1v1h-1zM527 268h1v1h-1zM531 268h1v1h-1zM535 268h1v1h-1zM539 268h1v1h-1zM543 268h1v1h-1zM547 268h1v1h-1zM551 268h1v1h-1zM555 268h1v1h-1zM559 268h1v1h-1zM563 268h1v1h-1zM567 268h1v1h-1zM571 268h1v1h-1zM575 268h1v1h-1zM579 268h1v1h-1zM583 268h1v1h-1zM587 268h1v1h-1zM591 268h1v1h-1zM595 268h1v1h-1zM599 268h1v1h-1zM603 268h1v1h-1zM607 268h1v1h-1zM611 268h1v1h-1zM615 268h1v1h-1zM619 268h1v1h-1zM623 268h1v1h-1zM627 268h1v1h-1zM631 268h1v1h-1zM635 268h1v1h-1zM169 270h1v1h-1zM237 270h1v1h-1zM306 270h1v1h-1zM375 270h1v1h-1zM444 270h1v1h-1zM512 270h1v1h-1zM581 270h1v1h-1zM169 274h1v1h-1zM237 274h1v1h-1zM306 274h1v1h-1zM375 274h1v1h-1zM444 274h1v1h-1zM512 274h1v1h-1zM581 274h1v1h-1zM169 278h1v1h-1zM237 278h1v1h-1zM306 278h1v1h-1zM375 278h1v1h-1zM444 278h1v1h-1zM512 278h1v1h-1zM581 278h1v1h-1zM169 282h1v1h-1zM237 282h1v1h-1zM306 282h1v1h-1zM375 282h1v1h-1zM444 282h1v1h-1zM512 282h1v1h-1zM581 282h1v1h-1zM169 286h1v1h-1zM237 286h1v1h-1zM306 286h1v1h-1zM444 286h1v1h-1zM512 286h1v1h-1zM581 286h1v1h-1zM169 290h1v1h-1zM237 290h1v1h-1zM306 290h1v1h-1zM375 290h1v1h-1zM444 290h1v1h-1zM512 290h1v1h-1zM581 290h1v1h-1zM169 294h1v1h-1zM237 294h1v1h-1zM306 294h1v1h-1zM375 294h1v1h-1zM444 294h1v1h-1zM512 294h1v1h-1zM581 294h1v1h-1zM169 298h1v1h-1zM237 298h1v1h-1zM306 298h1v1h-1zM375 298h1v1h-1zM444 298h1v1h-1zM512 298h1v1h-1zM581 298h1v1h-1zM169 302h1v1h-1zM237 302h1v1h-1zM306 302h1v1h-1zM375 302h1v1h-1zM444 302h1v1h-1zM512 302h1v1h-1zM581 302h1v1h-1zM169 306h1v1h-1zM237 306h1v1h-1zM306 306h1v1h-1zM375 306h1v1h-1zM444 306h1v1h-1zM512 306h1v1h-1zM581 306h1v1h-1zM169 310h1v1h-1zM237 310h1v1h-1zM306 310h1v1h-1zM375 310h1v1h-1zM444 310h1v1h-1zM512 310h1v1h-1zM581 310h1v1h-1zM102 311h1v1h-1zM106 311h1v1h-1zM110 311h1v1h-1zM114 311h1v1h-1zM118 311h1v1h-1zM122 311h1v1h-1zM126 311h1v1h-1zM130 311h1v1h-1zM134 311h1v1h-1zM138 311h1v1h-1zM142 311h1v1h-1zM146 311h1v1h-1zM150 311h1v1h-1zM154 311h1v1h-1zM158 311h1v1h-1zM162 311h1v1h-1zM166 311h1v1h-1zM170 311h1v1h-1zM174 311h1v1h-1zM178 311h1v1h-1zM182 311h1v1h-1zM186 311h1v1h-1zM190 311h1v1h-1zM194 311h1v1h-1zM198 311h1v1h-1zM202 311h1v1h-1zM206 311h1v1h-1zM210 311h1v1h-1zM214 311h1v1h-1zM218 311h1v1h-1zM222 311h1v1h-1zM226 311h1v1h-1zM230 311h1v1h-1zM234 311h1v1h-1zM238 311h1v1h-1zM242 311h1v1h-1zM246 311h1v1h-1zM250 311h1v1h-1zM254 311h1v1h-1zM258 311h1v1h-1zM262 311h1v1h-1zM266 311h1v1h-1zM270 311h1v1h-1zM274 311h1v1h-1zM278 311h1v1h-1zM282 311h1v1h-1zM286 311h1v1h-1zM290 311h1v1h-1zM294 311h1v1h-1zM298 311h1v1h-1zM302 311h1v1h-1zM306 311h1v1h-1zM310 311h1v1h-1zM314 311h1v1h-1zM318 311h1v1h-1zM322 311h1v1h-1zM326 311h1v1h-1zM330 311h1v1h-1zM334 311h1v1h-1zM338 311h1v1h-1zM342 311h1v1h-1zM346 311h1v1h-1zM350 311h1v1h-1zM354 311h1v1h-1zM358 311h1v1h-1zM362 311h1v1h-1zM366 311h1v1h-1zM370 311h1v1h-1zM374 311h1v1h-1zM378 311h1v1h-1zM382 311h1v1h-1zM386 311h1v1h-1zM390 311h1v1h-1zM394 311h1v1h-1zM398 311h1v1h-1zM402 311h1v1h-1zM406 311h1v1h-1zM410 311h1v1h-1zM414 311h1v1h-1zM418 311h1v1h-1zM422 311h1v1h-1zM426 311h1v1h-1zM430 311h1v1h-1zM434 311h1v1h-1zM438 311h1v1h-1zM442 311h1v1h-1zM446 311h1v1h-1zM450 311h1v1h-1zM454 311h1v1h-1zM458 311h1v1h-1zM462 311h1v1h-1zM466 311h1v1h-1zM470 311h1v1h-1zM474 311h1v1h-1zM478 311h1v1h-1zM482 311h1v1h-1zM486 311h1v1h-1zM490 311h1v1h-1zM494 311h1v1h-1zM498 311h1v1h-1zM502 311h1v1h-1zM506 311h1v1h-1zM510 311h1v1h-1zM514 311h1v1h-1zM518 311h1v1h-1zM522 311h1v1h-1zM526 311h1v1h-1zM530 311h1v1h-1zM534 311h1v1h-1zM538 311h1v1h-1zM542 311h1v1h-1zM546 311h1v1h-1zM550 311h1v1h-1zM554 311h1v1h-1zM558 311h1v1h-1zM562 311h1v1h-1zM566 311h1v1h-1zM570 311h1v1h-1zM574 311h1v1h-1zM578 311h1v1h-1zM582 311h1v1h-1zM586 311h1v1h-1zM590 311h1v1h-1zM594 311h1v1h-1zM598 311h1v1h-1zM602 311h1v1h-1zM606 311h1v1h-1zM610 311h1v1h-1zM614 311h1v1h-1zM618 311h1v1h-1zM622 311h1v1h-1zM626 311h1v1h-1zM630 311h1v1h-1zM634 311h1v1h-1zM638 311h1v1h-1zM642 311h1v1h-1zM646 311h1v1h-1zM169 314h1v1h-1zM237 314h1v1h-1zM306 314h1v1h-1zM375 314h1v1h-1zM444 314h1v1h-1zM512 314h1v1h-1zM581 314h1v1h-1zM169 318h1v1h-1zM237 318h1v1h-1zM306 318h1v1h-1zM375 318h1v1h-1zM444 318h1v1h-1zM512 318h1v1h-1zM581 318h1v1h-1zM169 322h1v1h-1zM237 322h1v1h-1zM306 322h1v1h-1zM375 322h1v1h-1zM444 322h1v1h-1zM512 322h1v1h-1zM581 322h1v1h-1zM169 326h1v1h-1zM237 326h1v1h-1zM306 326h1v1h-1zM375 326h1v1h-1zM444 326h1v1h-1zM512 326h1v1h-1zM581 326h1v1h-1zM169 330h1v1h-1zM237 330h1v1h-1zM306 330h1v1h-1zM375 330h1v1h-1zM444 330h1v1h-1zM512 330h1v1h-1zM581 330h1v1h-1zM169 334h1v1h-1zM237 334h1v1h-1zM375 334h1v1h-1zM444 334h1v1h-1zM512 334h1v1h-1zM581 334h1v1h-1zM169 338h1v1h-1zM237 338h1v1h-1zM306 338h1v1h-1zM375 338h1v1h-1zM444 338h1v1h-1zM512 338h1v1h-1zM581 338h1v1h-1zM169 342h1v1h-1zM237 342h1v1h-1zM306 342h1v1h-1zM375 342h1v1h-1zM444 342h1v1h-1zM512 342h1v1h-1zM581 342h1v1h-1zM169 346h1v1h-1zM237 346h1v1h-1zM306 346h1v1h-1zM375 346h1v1h-1zM444 346h1v1h-1zM512 346h1v1h-1zM581 346h1v1h-1zM169 350h1v1h-1zM237 350h1v1h-1zM306 350h1v1h-1zM375 350h1v1h-1zM444 350h1v1h-1zM512 350h1v1h-1zM581 350h1v1h-1zM113 353h1v1h-1zM117 353h1v1h-1zM121 353h1v1h-1zM125 353h1v1h-1zM129 353h1v1h-1zM133 353h1v1h-1zM137 353h1v1h-1zM141 353h1v1h-1zM145 353h1v1h-1zM149 353h1v1h-1zM153 353h1v1h-1zM157 353h1v1h-1zM161 353h1v1h-1zM165 353h1v1h-1zM169 353h1v1h-1zM173 353h1v1h-1zM177 353h1v1h-1zM181 353h1v1h-1zM185 353h1v1h-1zM189 353h1v1h-1zM193 353h1v1h-1zM197 353h1v1h-1zM201 353h1v1h-1zM205 353h1v1h-1zM209 353h1v1h-1zM213 353h1v1h-1zM217 353h1v1h-1zM221 353h1v1h-1zM225 353h1v1h-1zM229 353h1v1h-1zM233 353h1v1h-1zM237 353h1v1h-1zM241 353h1v1h-1zM245 353h1v1h-1zM249 353h1v1h-1zM253 353h1v1h-1zM257 353h1v1h-1zM261 353h1v1h-1zM265 353h1v1h-1zM269 353h1v1h-1zM273 353h1v1h-1zM277 353h1v1h-1zM281 353h1v1h-1zM285 353h1v1h-1zM289 353h1v1h-1zM293 353h1v1h-1zM297 353h1v1h-1zM301 353h1v1h-1zM305 353h1v1h-1zM309 353h1v1h-1zM313 353h1v1h-1zM317 353h1v1h-1zM321 353h1v1h-1zM325 353h1v1h-1zM329 353h1v1h-1zM333 353h1v1h-1zM337 353h1v1h-1zM341 353h1v1h-1zM345 353h1v1h-1zM349 353h1v1h-1zM353 353h1v1h-1zM357 353h1v1h-1zM361 353h1v1h-1zM365 353h1v1h-1zM369 353h1v1h-1zM373 353h1v1h-1zM377 353h1v1h-1zM381 353h1v1h-1zM385 353h1v1h-1zM389 353h1v1h-1zM393 353h1v1h-1zM397 353h1v1h-1zM401 353h1v1h-1zM405 353h1v1h-1zM409 353h1v1h-1zM413 353h1v1h-1zM417 353h1v1h-1zM421 353h1v1h-1zM425 353h1v1h-1zM429 353h1v1h-1zM433 353h1v1h-1zM437 353h1v1h-1zM441 353h1v1h-1zM445 353h1v1h-1zM449 353h1v1h-1zM453 353h1v1h-1zM457 353h1v1h-1zM461 353h1v1h-1zM465 353h1v1h-1zM469 353h1v1h-1zM473 353h1v1h-1zM477 353h1v1h-1zM481 353h1v1h-1zM485 353h1v1h-1zM489 353h1v1h-1zM493 353h1v1h-1zM497 353h1v1h-1zM501 353h1v1h-1zM505 353h1v1h-1zM509 353h1v1h-1zM513 353h1v1h-1zM517 353h1v1h-1zM521 353h1v1h-1zM525 353h1v1h-1zM529 353h1v1h-1zM533 353h1v1h-1zM537 353h1v1h-1zM541 353h1v1h-1zM545 353h1v1h-1zM549 353h1v1h-1zM553 353h1v1h-1zM557 353h1v1h-1zM561 353h1v1h-1zM565 353h1v1h-1zM569 353h1v1h-1zM573 353h1v1h-1zM577 353h1v1h-1zM581 353h1v1h-1zM585 353h1v1h-1zM589 353h1v1h-1zM593 353h1v1h-1zM597 353h1v1h-1zM601 353h1v1h-1zM605 353h1v1h-1zM609 353h1v1h-1zM613 353h1v1h-1zM617 353h1v1h-1zM621 353h1v1h-1zM625 353h1v1h-1zM629 353h1v1h-1zM633 353h1v1h-1zM637 353h1v1h-1zM169 354h1v1h-1zM237 354h1v1h-1zM306 354h1v1h-1zM375 354h1v1h-1zM444 354h1v1h-1zM512 354h1v1h-1zM581 354h1v1h-1zM169 358h1v1h-1zM237 358h1v1h-1zM306 358h1v1h-1zM375 358h1v1h-1zM444 358h1v1h-1zM512 358h1v1h-1zM581 358h1v1h-1zM169 362h1v1h-1zM237 362h1v1h-1zM306 362h1v1h-1zM375 362h1v1h-1zM444 362h1v1h-1zM512 362h1v1h-1zM581 362h1v1h-1zM169 366h1v1h-1zM237 366h1v1h-1zM306 366h1v1h-1zM375 366h1v1h-1zM444 366h1v1h-1zM512 366h1v1h-1zM581 366h1v1h-1zM169 370h1v1h-1zM237 370h1v1h-1zM306 370h1v1h-1zM375 370h1v1h-1zM444 370h1v1h-1zM512 370h1v1h-1zM581 370h1v1h-1zM169 374h1v1h-1zM237 374h1v1h-1zM306 374h1v1h-1zM375 374h1v1h-1zM444 374h1v1h-1zM512 374h1v1h-1zM581 374h1v1h-1zM169 378h1v1h-1zM237 378h1v1h-1zM306 378h1v1h-1zM375 378h1v1h-1zM444 378h1v1h-1zM512 378h1v1h-1zM581 378h1v1h-1zM169 382h1v1h-1zM237 382h1v1h-1zM306 382h1v1h-1zM375 382h1v1h-1zM444 382h1v1h-1zM512 382h1v1h-1zM581 382h1v1h-1zM169 386h1v1h-1zM237 386h1v1h-1zM306 386h1v1h-1zM375 386h1v1h-1zM444 386h1v1h-1zM512 386h1v1h-1zM581 386h1v1h-1zM169 390h1v1h-1zM237 390h1v1h-1zM306 390h1v1h-1zM375 390h1v1h-1zM444 390h1v1h-1zM512 390h1v1h-1zM581 390h1v1h-1zM169 394h1v1h-1zM237 394h1v1h-1zM306 394h1v1h-1zM375 394h1v1h-1zM444 394h1v1h-1zM512 394h1v1h-1zM581 394h1v1h-1zM104 396h1v1h-1zM108 396h1v1h-1zM112 396h1v1h-1zM116 396h1v1h-1zM120 396h1v1h-1zM124 396h1v1h-1zM128 396h1v1h-1zM132 396h1v1h-1zM136 396h1v1h-1zM140 396h1v1h-1zM144 396h1v1h-1zM148 396h1v1h-1zM152 396h1v1h-1zM156 396h1v1h-1zM160 396h1v1h-1zM164 396h1v1h-1zM168 396h1v1h-1zM172 396h1v1h-1zM176 396h1v1h-1zM180 396h1v1h-1zM184 396h1v1h-1zM188 396h1v1h-1zM192 396h1v1h-1zM196 396h1v1h-1zM200 396h1v1h-1zM204 396h1v1h-1zM208 396h1v1h-1zM212 396h1v1h-1zM216 396h1v1h-1zM220 396h1v1h-1zM224 396h1v1h-1zM228 396h1v1h-1zM232 396h1v1h-1zM236 396h1v1h-1zM240 396h1v1h-1zM244 396h1v1h-1zM248 396h1v1h-1zM252 396h1v1h-1zM256 396h1v1h-1zM260 396h1v1h-1zM264 396h1v1h-1zM268 396h1v1h-1zM272 396h1v1h-1zM276 396h1v1h-1zM280 396h1v1h-1zM284 396h1v1h-1zM288 396h1v1h-1zM292 396h1v1h-1zM296 396h1v1h-1zM300 396h1v1h-1zM304 396h1v1h-1zM308 396h1v1h-1zM312 396h1v1h-1zM316 396h1v1h-1zM320 396h1v1h-1zM324 396h1v1h-1zM328 396h1v1h-1zM332 396h1v1h-1zM336 396h1v1h-1zM340 396h1v1h-1zM344 396h1v1h-1zM348 396h1v1h-1zM352 396h1v1h-1zM356 396h1v1h-1zM376 396h1v1h-1zM380 396h1v1h-1zM384 396h1v1h-1zM388 396h1v1h-1zM392 396h1v1h-1zM396 396h1v1h-1zM400 396h1v1h-1zM404 396h1v1h-1zM408 396h1v1h-1zM412 396h1v1h-1zM416 396h1v1h-1zM420 396h1v1h-1zM424 396h1v1h-1zM428 396h1v1h-1zM432 396h1v1h-1zM436 396h1v1h-1zM440 396h1v1h-1zM444 396h1v1h-1zM448 396h1v1h-1zM452 396h1v1h-1zM456 396h1v1h-1zM460 396h1v1h-1zM464 396h1v1h-1zM468 396h1v1h-1zM472 396h1v1h-1zM476 396h1v1h-1zM480 396h1v1h-1zM484 396h1v1h-1zM488 396h1v1h-1zM492 396h1v1h-1zM496 396h1v1h-1zM500 396h1v1h-1zM504 396h1v1h-1zM508 396h1v1h-1zM512 396h1v1h-1zM516 396h1v1h-1zM520 396h1v1h-1zM524 396h1v1h-1zM528 396h1v1h-1zM532 396h1v1h-1zM536 396h1v1h-1zM540 396h1v1h-1zM544 396h1v1h-1zM548 396h1v1h-1zM552 396h1v1h-1zM556 396h1v1h-1zM560 396h1v1h-1zM564 396h1v1h-1zM568 396h1v1h-1zM572 396h1v1h-1zM576 396h1v1h-1zM580 396h1v1h-1zM584 396h1v1h-1zM588 396h1v1h-1zM592 396h1v1h-1zM596 396h1v1h-1zM600 396h1v1h-1zM604 396h1v1h-1zM608 396h1v1h-1zM612 396h1v1h-1zM616 396h1v1h-1zM620 396h1v1h-1zM624 396h1v1h-1zM628 396h1v1h-1zM632 396h1v1h-1zM636 396h1v1h-1zM640 396h1v1h-1zM644 396h1v1h-1zM648 396h1v1h-1zM169 398h1v1h-1zM237 398h1v1h-1zM306 398h1v1h-1zM375 398h1v1h-1zM444 398h1v1h-1zM512 398h1v1h-1zM581 398h1v1h-1zM169 402h1v1h-1zM237 402h1v1h-1zM306 402h1v1h-1zM375 402h1v1h-1zM444 402h1v1h-1zM512 402h1v1h-1zM581 402h1v1h-1zM169 406h1v1h-1zM237 406h1v1h-1zM375 406h1v1h-1zM444 406h1v1h-1zM512 406h1v1h-1zM581 406h1v1h-1zM169 410h1v1h-1zM237 410h1v1h-1zM306 410h1v1h-1zM444 410h1v1h-1zM512 410h1v1h-1zM581 410h1v1h-1zM169 414h1v1h-1zM237 414h1v1h-1zM306 414h1v1h-1zM375 414h1v1h-1zM444 414h1v1h-1zM512 414h1v1h-1zM581 414h1v1h-1zM169 418h1v1h-1zM237 418h1v1h-1zM306 418h1v1h-1zM375 418h1v1h-1zM444 418h1v1h-1zM512 418h1v1h-1zM581 418h1v1h-1zM169 422h1v1h-1zM306 422h1v1h-1zM375 422h1v1h-1zM444 422h1v1h-1zM512 422h1v1h-1zM581 422h1v1h-1zM169 426h1v1h-1zM237 426h1v1h-1zM306 426h1v1h-1zM375 426h1v1h-1zM444 426h1v1h-1zM512 426h1v1h-1zM581 426h1v1h-1z"/>
<path fill="#0000ff" d="M198 181h1v1h-1zM118 182h7v1h-7zM146 182h1v1h-1zM177 182h7v1h-7zM188 182h1v1h-1zM198 182h2v1h-2zM203 182h1v1h-1zM245 182h1v1h-1zM290 182h1v1h-1zM356 182h7v1h-7zM376 182h1v1h-1zM382 182h9v1h-9zM118 183h1v1h-1zM125 183h1v1h-1zM146 183h1v1h-1zM177 183h1v1h-1zM183 183h1v1h-1zM188 183h1v1h-1zM203 183h1v1h-1zM245 183h1v1h-1zM290 183h1v1h-1zM356 183h1v1h-1zM375 183h2v1h-2zM389 183h1v1h-1zM118 184h1v1h-1zM125 184h1v1h-1zM146 184h1v1h-1zM177 184h1v1h-1zM183 184h1v1h-1zM188 184h1v1h-1zM203 184h1v1h-1zM245 184h1v1h-1zM290 184h1v1h-1zM356 184h1v1h-1zM375 184h2v1h-2zM389 184h1v1h-1zM118 185h1v1h-1zM125 185h1v1h-1zM146 185h1v1h-1zM177 185h1v1h-1zM183 185h1v1h-1zM188 185h1v1h-1zM203 185h1v1h-1zM245 185h1v1h-1zM290 185h1v1h-1zM355 185h1v1h-1zM374 185h1v1h-1zM376 185h1v1h-1zM388 185h1v1h-1zM118 186h1v1h-1zM125 186h1v1h-1zM130 186h6v1h-6zM141 186h6v1h-6zM151 186h6v1h-6zM161 186h5v1h-5zM177 186h3v1h-3zM181 186h3v1h-3zM188 186h6v1h-6zM198 186h1v1h-1zM202 186h4v1h-4zM218 186h1v1h-1zM220 186h5v1h-5zM226 186h5v1h-5zM236 186h5v1h-5zM244 186h4v1h-4zM251 186h1v1h-1zM253 186h4v1h-4zM260 186h6v1h-6zM269 186h1v1h-1zM271 186h5v1h-5zM281 186h5v1h-5zM288 186h5v1h-5zM355 186h7v1h-7zM373 186h1v1h-1zM376 186h1v1h-1zM388 186h1v1h-1zM409 186h1v1h-1zM411 186h5v1h-5zM417 186h5v1h-5zM426 186h6v1h-6zM434 186h5v1h-5zM118 187h7v1h-7zM129 187h1v1h-1zM135 187h1v1h-1zM140 187h1v1h-1zM146 187h1v1h-1zM150 187h1v1h-1zM156 187h1v1h-1zM161 187h1v1h-1zM178 187h5v1h-5zM188 187h1v1h-1zM194 187h1v1h-1zM198 187h1v1h-1zM203 187h1v1h-1zM218 187h2v1h-2zM224 187h2v1h-2zM230 187h1v1h-1zM235 187h1v1h-1zM240 187h1v1h-1zM245 187h1v1h-1zM251 187h2v1h-2zM259 187h1v1h-1zM265 187h1v1h-1zM269 187h2v1h-2zM275 187h1v1h-1zM280 187h1v1h-1zM285 187h1v1h-1zM290 187h1v1h-1zM355 187h1v1h-1zM362 187h1v1h-1zM372 187h1v1h-1zM376 187h1v1h-1zM387 187h1v1h-1zM409 187h2v1h-2zM415 187h2v1h-2zM421 187h1v1h-1zM426 187h2v1h-2zM432 187h2v1h-2zM438 187h1v1h-1zM118 188h1v1h-1zM122 188h1v1h-1zM129 188h1v1h-1zM135 188h1v1h-1zM139 188h1v1h-1zM146 188h1v1h-1zM150 188h1v1h-1zM156 188h1v1h-1zM161 188h1v1h-1zM177 188h1v1h-1zM183 188h1v1h-1zM188 188h1v1h-1zM194 188h1v1h-1zM198 188h1v1h-1zM203 188h1v1h-1zM218 188h1v1h-1zM224 188h1v1h-1zM230 188h1v1h-1zM234 188h1v1h-1zM241 188h1v1h-1zM245 188h1v1h-1zM251 188h2v1h-2zM258 188h1v1h-1zM265 188h1v1h-1zM269 188h1v1h-1zM275 188h1v1h-1zM279 188h1v1h-1zM286 188h1v1h-1zM290 188h1v1h-1zM363 188h1v1h-1zM372 188h1v1h-1zM376 188h1v1h-1zM387 188h1v1h-1zM409 188h1v1h-1zM415 188h1v1h-1zM421 188h1v1h-1zM426 188h1v1h-1zM432 188h1v1h-1zM438 188h1v1h-1zM118 189h1v1h-1zM122 189h1v1h-1zM129 189h1v1h-1zM135 189h1v1h-1zM139 189h1v1h-1zM146 189h1v1h-1zM150 189h1v1h-1zM156 189h1v1h-1zM161 189h1v1h-1zM176 189h1v1h-1zM184 189h1v1h-1zM188 189h1v1h-1zM194 189h1v1h-1zM198 189h1v1h-1zM203 189h1v1h-1zM218 189h1v1h-1zM224 189h1v1h-1zM230 189h1v1h-1zM234 189h8v1h-8zM245 189h1v1h-1zM251 189h1v1h-1zM258 189h1v1h-1zM265 189h1v1h-1zM269 189h1v1h-1zM275 189h1v1h-1zM279 189h8v1h-8zM290 189h1v1h-1zM363 189h1v1h-1zM371 189h9v1h-9zM386 189h1v1h-1zM409 189h1v1h-1zM415 189h1v1h-1zM421 189h1v1h-1zM426 189h1v1h-1zM432 189h1v1h-1zM438 189h1v1h-1zM118 190h1v1h-1zM123 190h1v1h-1zM129 190h1v1h-1zM135 190h1v1h-1zM139 190h1v1h-1zM146 190h1v1h-1zM150 190h1v1h-1zM156 190h1v1h-1zM161 190h1v1h-1zM176 190h1v1h-1zM184 190h1v1h-1zM188 190h1v1h-1zM194 190h1v1h-1zM198 190h1v1h-1zM203 190h1v1h-1zM218 190h1v1h-1zM224 190h1v1h-1zM230 190h1v1h-1zM234 190h1v1h-1zM245 190h1v1h-1zM251 190h1v1h-1zM258 190h1v1h-1zM265 190h1v1h-1zM269 190h1v1h-1zM275 190h1v1h-1zM279 190h1v1h-1zM290 190h1v1h-1zM363 190h1v1h-1zM376 190h1v1h-1zM386 190h1v1h-1zM409 190h1v1h-1zM415 190h1v1h-1zM421 190h1v1h-1zM426 190h1v1h-1zM432 190h1v1h-1zM438 190h1v1h-1zM118 191h1v1h-1zM124 191h1v1h-1zM129 191h1v1h-1zM135 191h1v1h-1zM140 191h1v1h-1zM146 191h1v1h-1zM150 191h1v1h-1zM156 191h1v1h-1zM161 191h1v1h-1zM176 191h1v1h-1zM184 191h1v1h-1zM188 191h1v1h-1zM194 191h1v1h-1zM198 191h1v1h-1zM203 191h1v1h-1zM218 191h1v1h-1zM224 191h1v1h-1zM230 191h1v1h-1zM235 191h1v1h-1zM245 191h1v1h-1zM251 191h1v1h-1zM259 191h1v1h-1zM265 191h1v1h-1zM269 191h1v1h-1zM275 191h1v1h-1zM280 191h1v1h-1zM290 191h1v1h-1zM355 191h1v1h-1zM362 191h1v1h-1zM376 191h1v1h-1zM385 191h1v1h-1zM409 191h1v1h-1zM415 191h1v1h-1zM421 191h1v1h-1zM426 191h1v1h-1zM432 191h1v1h-1zM438 191h1v1h-1zM118 192h1v1h-1zM124 192h1v1h-1zM129 192h1v1h-1zM135 192h1v1h-1zM140 192h1v1h-1zM146 192h1v1h-1zM150 192h1v1h-1zM156 192h1v1h-1zM161 192h1v1h-1zM177 192h1v1h-1zM183 192h1v1h-1zM188 192h1v1h-1zM194 192h1v1h-1zM198 192h1v1h-1zM204 192h1v1h-1zM218 192h1v1h-1zM224 192h1v1h-1zM230 192h1v1h-1zM235 192h1v1h-1zM241 192h1v1h-1zM246 192h1v1h-1zM251 192h1v1h-1zM259 192h1v1h-1zM265 192h1v1h-1zM269 192h1v1h-1zM275 192h1v1h-1zM280 192h1v1h-1zM286 192h1v1h-1zM291 192h1v1h-1zM355 192h1v1h-1zM362 192h1v1h-1zM367 192h1v1h-1zM376 192h1v1h-1zM385 192h1v1h-1zM409 192h1v1h-1zM415 192h1v1h-1zM421 192h1v1h-1zM426 192h1v1h-1zM432 192h1v1h-1zM438 192h1v1h-1zM118 193h1v1h-1zM125 193h1v1h-1zM130 193h6v1h-6zM141 193h6v1h-6zM151 193h6v1h-6zM161 193h1v1h-1zM177 193h7v1h-7zM188 193h6v1h-6zM198 193h1v1h-1zM204 193h13v1h-13zM218 193h1v1h-1zM224 193h1v1h-1zM230 193h1v1h-1zM236 193h5v1h-5zM246 193h3v1h-3zM251 193h1v1h-1zM260 193h6v1h-6zM269 193h1v1h-1zM275 193h1v1h-1zM281 193h5v1h-5zM291 193h3v1h-3zM356 193h6v1h-6zM366 193h2v1h-2zM376 193h1v1h-1zM384 193h1v1h-1zM409 193h1v1h-1zM415 193h1v1h-1zM421 193h1v1h-1zM426 193h1v1h-1zM432 193h1v1h-1zM438 193h1v1h-1zM448 391h22v1h-22zM442 392h6v1h-6zM429 393h13v1h-13zM385 394h44v1h-44zM374 395h11v1h-11zM358 396h16v1h-16zM356 397h2v1h-2zM354 398h2v1h-2zM349 399h5v1h-5zM348 400h1v1h-1zM340 401h8v1h-8zM340 402h1v1h-1zM339 403h1v1h-1zM320 404h19v1h-19zM319 405h1v1h-1zM302 406h17v1h-17zM302 407h1v1h-1zM302 408h1v1h-1zM302 409h1v1h-1zM302 410h1v1h-1zM300 411h3v1h-3zM300 412h1v1h-1zM300 413h1v1h-1zM300 414h1v1h-1zM300 415h1v1h-1zM300 416h1v1h-1zM300 417h1v1h-1zM299 418h2v1h-2zM297 419h2v1h-2zM241 420h56v1h-56zM241 421h1v1h-1zM234 422h7v1h-7zM232 423h2v1h-2zM220 424h12v1h-12zM220 425h1v1h-1zM220 426h1v1h-1zM218 427h2v1h-2zM197 428h21v1h-21zM195 429h2v1h-2zM194 430h1v1h-1zM194 431h1v1h-1zM193 432h1v1h-1zM193 433h1v1h-1zM190 435h2v1h-2z"/>
<path fill="#ff9600" d="M118 202h6v1h-6zM146 202h1v1h-1zM177 202h6v1h-6zM198 202h2v1h-2zM222 202h6v1h-6zM244 202h1v1h-1zM275 202h1v1h-1zM358 202h3v1h-3zM374 202h3v1h-3zM385 202h3v1h-3zM118 203h1v1h-1zM124 203h2v1h-2zM146 203h1v1h-1zM177 203h1v1h-1zM183 203h2v1h-2zM199 203h1v1h-1zM222 203h1v1h-1zM228 203h2v1h-2zM235 203h3v1h-3zM244 203h1v1h-1zM275 203h1v1h-1zM357 203h1v1h-1zM361 203h1v1h-1zM372 203h2v1h-2zM377 203h1v1h-1zM384 203h1v1h-1zM388 203h1v1h-1zM118 204h1v1h-1zM126 204h1v1h-1zM146 204h1v1h-1zM177 204h1v1h-1zM184 204h1v1h-1zM222 204h1v1h-1zM230 204h1v1h-1zM234 204h1v1h-1zM238 204h2v1h-2zM244 204h1v1h-1zM275 204h1v1h-1zM355 204h2v1h-2zM362 204h1v1h-1zM371 204h1v1h-1zM378 204h1v1h-1zM383 204h1v1h-1zM389 204h1v1h-1zM118 205h1v1h-1zM126 205h1v1h-1zM146 205h1v1h-1zM177 205h1v1h-1zM184 205h1v1h-1zM222 205h1v1h-1zM230 205h1v1h-1zM244 205h1v1h-1zM275 205h1v1h-1zM355 205h1v1h-1zM362 205h1v1h-1zM371 205h1v1h-1zM378 205h1v1h-1zM383 205h1v1h-1zM389 205h1v1h-1zM118 206h1v1h-1zM126 206h1v1h-1zM132 206h3v1h-3zM136 206h1v1h-1zM142 206h3v1h-3zM146 206h1v1h-1zM153 206h2v1h-2zM156 206h1v1h-1zM161 206h1v1h-1zM163 206h3v1h-3zM177 206h1v1h-1zM184 206h1v1h-1zM190 206h3v1h-3zM194 206h1v1h-1zM199 206h1v1h-1zM203 206h1v1h-1zM206 206h2v1h-2zM222 206h1v1h-1zM230 206h1v1h-1zM236 206h3v1h-3zM240 206h1v1h-1zM244 206h1v1h-1zM246 206h3v1h-3zM257 206h2v1h-2zM261 206h1v1h-1zM267 206h3v1h-3zM275 206h1v1h-1zM277 206h3v1h-3zM287 206h3v1h-3zM295 206h1v1h-1zM298 206h2v1h-2zM355 206h1v1h-1zM363 206h1v1h-1zM371 206h1v1h-1zM379 206h1v1h-1zM382 206h1v1h-1zM390 206h1v1h-1zM409 206h1v1h-1zM412 206h2v1h-2zM418 206h3v1h-3zM426 206h1v1h-1zM428 206h3v1h-3zM435 206h2v1h-2zM118 207h1v1h-1zM125 207h1v1h-1zM131 207h1v1h-1zM135 207h2v1h-2zM141 207h1v1h-1zM145 207h2v1h-2zM152 207h1v1h-1zM155 207h2v1h-2zM161 207h2v1h-2zM177 207h1v1h-1zM183 207h2v1h-2zM189 207h1v1h-1zM193 207h2v1h-2zM199 207h1v1h-1zM203 207h3v1h-3zM208 207h1v1h-1zM222 207h1v1h-1zM229 207h1v1h-1zM235 207h1v1h-1zM239 207h2v1h-2zM244 207h2v1h-2zM249 207h1v1h-1zM256 207h1v1h-1zM259 207h3v1h-3zM266 207h1v1h-1zM270 207h1v1h-1zM275 207h2v1h-2zM280 207h1v1h-1zM286 207h1v1h-1zM290 207h2v1h-2zM295 207h1v1h-1zM297 207h1v1h-1zM355 207h1v1h-1zM363 207h1v1h-1zM371 207h1v1h-1zM379 207h1v1h-1zM382 207h1v1h-1zM390 207h1v1h-1zM409 207h3v1h-3zM414 207h4v1h-4zM421 207h1v1h-1zM426 207h2v1h-2zM431 207h1v1h-1zM433 207h2v1h-2zM437 207h2v1h-2zM118 208h7v1h-7zM130 208h1v1h-1zM136 208h1v1h-1zM140 208h1v1h-1zM146 208h1v1h-1zM150 208h2v1h-2zM156 208h1v1h-1zM161 208h1v1h-1zM177 208h6v1h-6zM188 208h1v1h-1zM194 208h1v1h-1zM199 208h1v1h-1zM203 208h1v1h-1zM209 208h1v1h-1zM222 208h7v1h-7zM234 208h1v1h-1zM240 208h1v1h-1zM244 208h1v1h-1zM250 208h1v1h-1zM254 208h2v1h-2zM261 208h1v1h-1zM265 208h1v1h-1zM271 208h1v1h-1zM275 208h1v1h-1zM281 208h1v1h-1zM285 208h1v1h-1zM291 208h1v1h-1zM295 208h2v1h-2zM355 208h1v1h-1zM363 208h1v1h-1zM371 208h1v1h-1zM379 208h1v1h-1zM382 208h1v1h-1zM390 208h1v1h-1zM409 208h1v1h-1zM415 208h1v1h-1zM421 208h1v1h-1zM426 208h1v1h-1zM432 208h1v1h-1zM438 208h1v1h-1zM118 209h1v1h-1zM123 209h1v1h-1zM129 209h1v1h-1zM136 209h1v1h-1zM139 209h1v1h-1zM146 209h1v1h-1zM150 209h1v1h-1zM156 209h1v1h-1zM161 209h1v1h-1zM177 209h1v1h-1zM182 209h1v1h-1zM188 209h1v1h-1zM194 209h1v1h-1zM199 209h1v1h-1zM203 209h1v1h-1zM209 209h1v1h-1zM222 209h1v1h-1zM227 209h1v1h-1zM233 209h1v1h-1zM240 209h1v1h-1zM244 209h1v1h-1zM251 209h1v1h-1zM254 209h1v1h-1zM261 209h1v1h-1zM264 209h1v1h-1zM275 209h1v1h-1zM281 209h1v1h-1zM285 209h7v1h-7zM295 209h1v1h-1zM355 209h1v1h-1zM363 209h1v1h-1zM371 209h1v1h-1zM379 209h1v1h-1zM382 209h1v1h-1zM390 209h1v1h-1zM409 209h1v1h-1zM415 209h1v1h-1zM421 209h1v1h-1zM426 209h1v1h-1zM432 209h1v1h-1zM438 209h1v1h-1zM118 210h1v1h-1zM123 210h1v1h-1zM129 210h1v1h-1zM136 210h1v1h-1zM139 210h1v1h-1zM146 210h1v1h-1zM150 210h1v1h-1zM156 210h1v1h-1zM161 210h1v1h-1zM177 210h1v1h-1zM182 210h1v1h-1zM188 210h1v1h-1zM194 210h1v1h-1zM199 210h1v1h-1zM203 210h1v1h-1zM209 210h1v1h-1zM222 210h1v1h-1zM227 210h1v1h-1zM233 210h1v1h-1zM240 210h1v1h-1zM244 210h1v1h-1zM251 210h1v1h-1zM254 210h1v1h-1zM261 210h1v1h-1zM264 210h1v1h-1zM275 210h1v1h-1zM281 210h1v1h-1zM285 210h1v1h-1zM295 210h1v1h-1zM355 210h1v1h-1zM363 210h1v1h-1zM371 210h1v1h-1zM379 210h1v1h-1zM382 210h1v1h-1zM390 210h1v1h-1zM409 210h1v1h-1zM415 210h1v1h-1zM421 210h1v1h-1zM426 210h1v1h-1zM432 210h1v1h-1zM438 210h1v1h-1zM118 211h1v1h-1zM124 211h1v1h-1zM130 211h1v1h-1zM136 211h1v1h-1zM140 211h1v1h-1zM146 211h1v1h-1zM150 211h1v1h-1zM156 211h1v1h-1zM161 211h1v1h-1zM177 211h1v1h-1zM183 211h1v1h-1zM188 211h1v1h-1zM194 211h1v1h-1zM199 211h1v1h-1zM203 211h1v1h-1zM209 211h1v1h-1zM222 211h1v1h-1zM228 211h1v1h-1zM234 211h1v1h-1zM240 211h1v1h-1zM244 211h1v1h-1zM250 211h1v1h-1zM254 211h1v1h-1zM261 211h1v1h-1zM265 211h1v1h-1zM275 211h1v1h-1zM281 211h1v1h-1zM285 211h1v1h-1zM295 211h1v1h-1zM355 211h1v1h-1zM362 211h1v1h-1zM371 211h1v1h-1zM378 211h1v1h-1zM383 211h1v1h-1zM389 211h1v1h-1zM409 211h1v1h-1zM415 211h1v1h-1zM421 211h1v1h-1zM426 211h1v1h-1zM432 211h1v1h-1zM438 211h1v1h-1zM118 212h1v1h-1zM125 212h1v1h-1zM130 212h1v1h-1zM136 212h1v1h-1zM140 212h1v1h-1zM146 212h1v1h-1zM150 212h1v1h-1zM156 212h1v1h-1zM161 212h1v1h-1zM177 212h1v1h-1zM183 212h1v1h-1zM188 212h1v1h-1zM194 212h1v1h-1zM199 212h1v1h-1zM203 212h1v1h-1zM209 212h1v1h-1zM222 212h1v1h-1zM229 212h1v1h-1zM234 212h1v1h-1zM240 212h1v1h-1zM244 212h1v1h-1zM250 212h1v1h-1zM254 212h1v1h-1zM260 212h2v1h-2zM265 212h1v1h-1zM271 212h1v1h-1zM275 212h1v1h-1zM281 212h1v1h-1zM285 212h1v1h-1zM291 212h1v1h-1zM295 212h1v1h-1zM355 212h1v1h-1zM362 212h1v1h-1zM371 212h1v1h-1zM378 212h1v1h-1zM383 212h1v1h-1zM389 212h1v1h-1zM409 212h1v1h-1zM415 212h1v1h-1zM421 212h1v1h-1zM426 212h1v1h-1zM432 212h1v1h-1zM438 212h1v1h-1zM118 213h1v1h-1zM125 213h1v1h-1zM131 213h1v1h-1zM134 213h3v1h-3zM141 213h1v1h-1zM145 213h2v1h-2zM151 213h2v1h-2zM155 213h2v1h-2zM161 213h1v1h-1zM177 213h1v1h-1zM184 213h1v1h-1zM189 213h1v1h-1zM193 213h2v1h-2zM199 213h1v1h-1zM203 213h1v1h-1zM209 213h1v1h-1zM222 213h1v1h-1zM229 213h1v1h-1zM235 213h1v1h-1zM239 213h2v1h-2zM244 213h2v1h-2zM249 213h1v1h-1zM255 213h2v1h-2zM259 213h1v1h-1zM261 213h1v1h-1zM266 213h1v1h-1zM270 213h1v1h-1zM275 213h1v1h-1zM281 213h1v1h-1zM286 213h1v1h-1zM290 213h1v1h-1zM295 213h1v1h-1zM356 213h2v1h-2zM360 213h2v1h-2zM366 213h2v1h-2zM372 213h1v1h-1zM376 213h2v1h-2zM384 213h1v1h-1zM387 213h2v1h-2zM409 213h1v1h-1zM415 213h1v1h-1zM421 213h1v1h-1zM426 213h1v1h-1zM432 213h1v1h-1zM438 213h1v1h-1zM118 214h1v1h-1zM126 214h1v1h-1zM132 214h2v1h-2zM136 214h1v1h-1zM142 214h3v1h-3zM146 214h1v1h-1zM153 214h2v1h-2zM156 214h1v1h-1zM161 214h1v1h-1zM177 214h1v1h-1zM184 214h1v1h-1zM190 214h3v1h-3zM194 214h1v1h-1zM199 214h1v1h-1zM203 214h1v1h-1zM209 214h1v1h-1zM222 214h1v1h-1zM230 214h1v1h-1zM236 214h3v1h-3zM240 214h1v1h-1zM244 214h1v1h-1zM246 214h3v1h-3zM257 214h2v1h-2zM261 214h1v1h-1zM267 214h3v1h-3zM275 214h1v1h-1zM281 214h1v1h-1zM287 214h3v1h-3zM295 214h1v1h-1zM358 214h2v1h-2zM367 214h1v1h-1zM373 214h3v1h-3zM385 214h2v1h-2zM409 214h1v1h-1zM415 214h1v1h-1zM421 214h1v1h-1zM426 214h1v1h-1zM432 214h1v1h-1zM438 214h1v1h-1z"/>
<path fill="#00b400" d="M118 161h6v1h-6zM146 161h1v1h-1zM214 161h2v1h-2zM325 161h1v1h-1zM356 161h7v1h-7zM371 161h9v1h-9zM385 161h3v1h-3zM118 162h1v1h-1zM124 162h2v1h-2zM146 162h1v1h-1zM215 162h1v1h-1zM325 162h1v1h-1zM361 162h1v1h-1zM378 162h1v1h-1zM384 162h1v1h-1zM388 162h1v1h-1zM118 163h1v1h-1zM125 163h1v1h-1zM146 163h1v1h-1zM325 163h1v1h-1zM361 163h1v1h-1zM378 163h1v1h-1zM383 163h1v1h-1zM389 163h1v1h-1zM118 164h1v1h-1zM125 164h1v1h-1zM146 164h1v1h-1zM325 164h1v1h-1zM360 164h1v1h-1zM377 164h1v1h-1zM383 164h1v1h-1zM389 164h1v1h-1zM118 165h1v1h-1zM125 165h1v1h-1zM131 165h3v1h-3zM135 165h1v1h-1zM142 165h3v1h-3zM146 165h1v1h-1zM153 165h2v1h-2zM156 165h1v1h-1zM161 165h1v1h-1zM163 165h3v1h-3zM177 165h1v1h-1zM179 165h3v1h-3zM187 165h1v1h-1zM190 165h3v1h-3zM197 165h3v1h-3zM207 165h3v1h-3zM215 165h1v1h-1zM219 165h1v1h-1zM221 165h3v1h-3zM231 165h4v1h-4zM238 165h1v1h-1zM245 165h1v1h-1zM257 165h1v1h-1zM259 165h3v1h-3zM266 165h3v1h-3zM270 165h1v1h-1zM274 165h1v1h-1zM278 165h1v1h-1zM283 165h1v1h-1zM297 165h4v1h-4zM307 165h3v1h-3zM317 165h3v1h-3zM321 165h1v1h-1zM325 165h1v1h-1zM332 165h3v1h-3zM360 165h1v1h-1zM377 165h1v1h-1zM382 165h1v1h-1zM390 165h1v1h-1zM409 165h1v1h-1zM412 165h2v1h-2zM418 165h3v1h-3zM426 165h1v1h-1zM428 165h3v1h-3zM435 165h2v1h-2zM118 166h1v1h-1zM124 166h2v1h-2zM130 166h1v1h-1zM134 166h2v1h-2zM141 166h1v1h-1zM145 166h2v1h-2zM151 166h2v1h-2zM155 166h2v1h-2zM161 166h2v1h-2zM177 166h2v1h-2zM182 166h1v1h-1zM187 166h1v1h-1zM189 166h1v1h-1zM196 166h1v1h-1zM200 166h1v1h-1zM206 166h1v1h-1zM210 166h1v1h-1zM215 166h1v1h-1zM219 166h2v1h-2zM224 166h1v1h-1zM230 166h1v1h-1zM235 166h1v1h-1zM238 166h1v1h-1zM244 166h1v1h-1zM257 166h2v1h-2zM265 166h1v1h-1zM269 166h2v1h-2zM274 166h1v1h-1zM278 166h1v1h-1zM283 166h1v1h-1zM296 166h1v1h-1zM301 166h1v1h-1zM306 166h1v1h-1zM310 166h1v1h-1zM316 166h1v1h-1zM320 166h2v1h-2zM325 166h1v1h-1zM331 166h1v1h-1zM335 166h1v1h-1zM359 166h4v1h-4zM376 166h1v1h-1zM382 166h1v1h-1zM390 166h1v1h-1zM409 166h3v1h-3zM414 166h4v1h-4zM421 166h1v1h-1zM426 166h2v1h-2zM431 166h1v1h-1zM433 166h2v1h-2zM437 166h2v1h-2zM118 167h6v1h-6zM129 167h1v1h-1zM135 167h1v1h-1zM140 167h1v1h-1zM146 167h1v1h-1zM150 167h1v1h-1zM156 167h1v1h-1zM161 167h1v1h-1zM177 167h1v1h-1zM183 167h1v1h-1zM187 167h2v1h-2zM195 167h1v1h-1zM201 167h1v1h-1zM205 167h1v1h-1zM211 167h1v1h-1zM215 167h1v1h-1zM219 167h1v1h-1zM225 167h1v1h-1zM229 167h1v1h-1zM235 167h1v1h-1zM239 167h1v1h-1zM244 167h1v1h-1zM257 167h1v1h-1zM264 167h1v1h-1zM270 167h1v1h-1zM275 167h1v1h-1zM277 167h1v1h-1zM279 167h1v1h-1zM282 167h1v1h-1zM295 167h1v1h-1zM301 167h1v1h-1zM305 167h1v1h-1zM311 167h1v1h-1zM315 167h1v1h-1zM321 167h1v1h-1zM325 167h1v1h-1zM330 167h1v1h-1zM336 167h1v1h-1zM362 167h1v1h-1zM376 167h1v1h-1zM382 167h1v1h-1zM390 167h1v1h-1zM409 167h1v1h-1zM415 167h1v1h-1zM421 167h1v1h-1zM426 167h1v1h-1zM432 167h1v1h-1zM438 167h1v1h-1zM118 168h1v1h-1zM122 168h1v1h-1zM129 168h1v1h-1zM135 168h1v1h-1zM139 168h1v1h-1zM146 168h1v1h-1zM150 168h1v1h-1zM156 168h1v1h-1zM161 168h1v1h-1zM177 168h1v1h-1zM184 168h1v1h-1zM187 168h1v1h-1zM194 168h8v1h-8zM204 168h1v1h-1zM215 168h1v1h-1zM219 168h1v1h-1zM226 168h1v1h-1zM230 168h2v1h-2zM239 168h1v1h-1zM243 168h1v1h-1zM257 168h1v1h-1zM263 168h1v1h-1zM270 168h1v1h-1zM275 168h1v1h-1zM277 168h1v1h-1zM279 168h1v1h-1zM282 168h1v1h-1zM296 168h2v1h-2zM304 168h1v1h-1zM314 168h1v1h-1zM321 168h1v1h-1zM325 168h1v1h-1zM329 168h8v1h-8zM363 168h1v1h-1zM375 168h1v1h-1zM382 168h1v1h-1zM390 168h1v1h-1zM409 168h1v1h-1zM415 168h1v1h-1zM421 168h1v1h-1zM426 168h1v1h-1zM432 168h1v1h-1zM438 168h1v1h-1zM118 169h1v1h-1zM122 169h1v1h-1zM129 169h1v1h-1zM135 169h1v1h-1zM139 169h1v1h-1zM146 169h1v1h-1zM150 169h1v1h-1zM156 169h1v1h-1zM161 169h1v1h-1zM177 169h1v1h-1zM184 169h1v1h-1zM187 169h1v1h-1zM194 169h1v1h-1zM204 169h1v1h-1zM215 169h1v1h-1zM219 169h1v1h-1zM226 169h1v1h-1zM232 169h2v1h-2zM240 169h1v1h-1zM243 169h1v1h-1zM257 169h1v1h-1zM263 169h1v1h-1zM270 169h1v1h-1zM275 169h1v1h-1zM277 169h1v1h-1zM280 169h1v1h-1zM282 169h1v1h-1zM298 169h2v1h-2zM304 169h1v1h-1zM314 169h1v1h-1zM321 169h1v1h-1zM325 169h1v1h-1zM329 169h1v1h-1zM363 169h1v1h-1zM375 169h1v1h-1zM382 169h1v1h-1zM390 169h1v1h-1zM409 169h1v1h-1zM415 169h1v1h-1zM421 169h1v1h-1zM426 169h1v1h-1zM432 169h1v1h-1zM438 169h1v1h-1zM118 170h1v1h-1zM123 170h1v1h-1zM129 170h1v1h-1zM135 170h1v1h-1zM139 170h1v1h-1zM146 170h1v1h-1zM150 170h1v1h-1zM156 170h1v1h-1zM161 170h1v1h-1zM177 170h1v1h-1zM184 170h1v1h-1zM187 170h1v1h-1zM194 170h1v1h-1zM204 170h1v1h-1zM215 170h1v1h-1zM219 170h1v1h-1zM226 170h1v1h-1zM234 170h2v1h-2zM240 170h1v1h-1zM242 170h1v1h-1zM257 170h1v1h-1zM263 170h1v1h-1zM270 170h1v1h-1zM275 170h1v1h-1zM277 170h1v1h-1zM280 170h1v1h-1zM282 170h1v1h-1zM300 170h2v1h-2zM304 170h1v1h-1zM314 170h1v1h-1zM321 170h1v1h-1zM325 170h1v1h-1zM329 170h1v1h-1zM363 170h1v1h-1zM374 170h1v1h-1zM383 170h1v1h-1zM389 170h1v1h-1zM409 170h1v1h-1zM415 170h1v1h-1zM421 170h1v1h-1zM426 170h1v1h-1zM432 170h1v1h-1zM438 170h1v1h-1zM118 171h1v1h-1zM124 171h1v1h-1zM129 171h1v1h-1zM135 171h1v1h-1zM140 171h1v1h-1zM146 171h1v1h-1zM150 171h1v1h-1zM156 171h1v1h-1zM161 171h1v1h-1zM177 171h1v1h-1zM183 171h1v1h-1zM187 171h1v1h-1zM195 171h1v1h-1zM201 171h1v1h-1zM205 171h1v1h-1zM211 171h1v1h-1zM215 171h1v1h-1zM219 171h1v1h-1zM225 171h1v1h-1zM229 171h1v1h-1zM235 171h1v1h-1zM240 171h1v1h-1zM242 171h1v1h-1zM257 171h1v1h-1zM264 171h1v1h-1zM270 171h1v1h-1zM276 171h1v1h-1zM280 171h2v1h-2zM295 171h1v1h-1zM301 171h1v1h-1zM305 171h1v1h-1zM311 171h1v1h-1zM315 171h1v1h-1zM321 171h1v1h-1zM325 171h1v1h-1zM330 171h1v1h-1zM336 171h1v1h-1zM355 171h1v1h-1zM362 171h1v1h-1zM374 171h1v1h-1zM383 171h1v1h-1zM389 171h1v1h-1zM409 171h1v1h-1zM415 171h1v1h-1zM421 171h1v1h-1zM426 171h1v1h-1zM432 171h1v1h-1zM438 171h1v1h-1zM118 172h1v1h-1zM124 172h1v1h-1zM130 172h1v1h-1zM134 172h2v1h-2zM141 172h1v1h-1zM145 172h2v1h-2zM151 172h1v1h-1zM155 172h2v1h-2zM161 172h1v1h-1zM177 172h2v1h-2zM182 172h1v1h-1zM187 172h1v1h-1zM196 172h1v1h-1zM200 172h1v1h-1zM206 172h1v1h-1zM210 172h1v1h-1zM215 172h1v1h-1zM219 172h2v1h-2zM224 172h1v1h-1zM230 172h1v1h-1zM235 172h1v1h-1zM241 172h1v1h-1zM257 172h1v1h-1zM265 172h1v1h-1zM269 172h2v1h-2zM276 172h1v1h-1zM281 172h1v1h-1zM296 172h1v1h-1zM301 172h1v1h-1zM306 172h1v1h-1zM310 172h1v1h-1zM316 172h1v1h-1zM320 172h2v1h-2zM325 172h1v1h-1zM331 172h1v1h-1zM335 172h1v1h-1zM355 172h3v1h-3zM361 172h1v1h-1zM366 172h2v1h-2zM373 172h1v1h-1zM384 172h1v1h-1zM387 172h2v1h-2zM409 172h1v1h-1zM415 172h1v1h-1zM421 172h1v1h-1zM426 172h1v1h-1zM432 172h1v1h-1zM438 172h1v1h-1zM118 173h1v1h-1zM125 173h1v1h-1zM131 173h3v1h-3zM135 173h1v1h-1zM142 173h3v1h-3zM146 173h1v1h-1zM152 173h3v1h-3zM156 173h1v1h-1zM161 173h1v1h-1zM177 173h1v1h-1zM179 173h3v1h-3zM187 173h1v1h-1zM197 173h3v1h-3zM207 173h3v1h-3zM215 173h1v1h-1zM219 173h1v1h-1zM221 173h3v1h-3zM231 173h4v1h-4zM241 173h1v1h-1zM246 173h10v1h-10zM257 173h1v1h-1zM266 173h3v1h-3zM270 173h1v1h-1zM276 173h1v1h-1zM281 173h1v1h-1zM284 173h10v1h-10zM297 173h4v1h-4zM307 173h3v1h-3zM317 173h3v1h-3zM321 173h1v1h-1zM325 173h1v1h-1zM332 173h3v1h-3zM358 173h3v1h-3zM367 173h1v1h-1zM373 173h1v1h-1zM385 173h2v1h-2zM409 173h1v1h-1zM415 173h1v1h-1zM421 173h1v1h-1zM426 173h1v1h-1zM432 173h1v1h-1zM438 173h1v1h-1zM177 174h1v1h-1zM219 174h1v1h-1zM177 175h1v1h-1zM219 175h1v1h-1zM177 176h1v1h-1zM219 176h1v1h-1zM177 177h1v1h-1zM219 177h1v1h-1zM442 407h28v1h-28zM427 408h15v1h-15zM376 409h51v1h-51zM358 410h18v1h-18zM356 411h2v1h-2zM354 412h2v1h-2zM348 413h6v1h-6zM346 414h2v1h-2zM341 415h5v1h-5zM339 416h2v1h-2zM320 417h19v1h-19zM318 418h2v1h-2zM302 419h16v1h-16zM302 420h1v1h-1zM301 421h1v1h-1zM300 422h1v1h-1zM299 423h2v1h-2zM297 424h2v1h-2zM241 425h56v1h-56zM241 426h1v1h-1zM234 427h7v1h-7zM232 428h2v1h-2zM220 429h12v1h-12zM220 430h1v1h-1zM198 431h22v1h-22zM195 432h3v1h-3zM194 433h1v1h-1zM194 434h1v1h-1zM193 435h1v1h-1zM190 436h2v1h-2zM188 437h2v1h-2z"/>
</svg>
</body></html>
